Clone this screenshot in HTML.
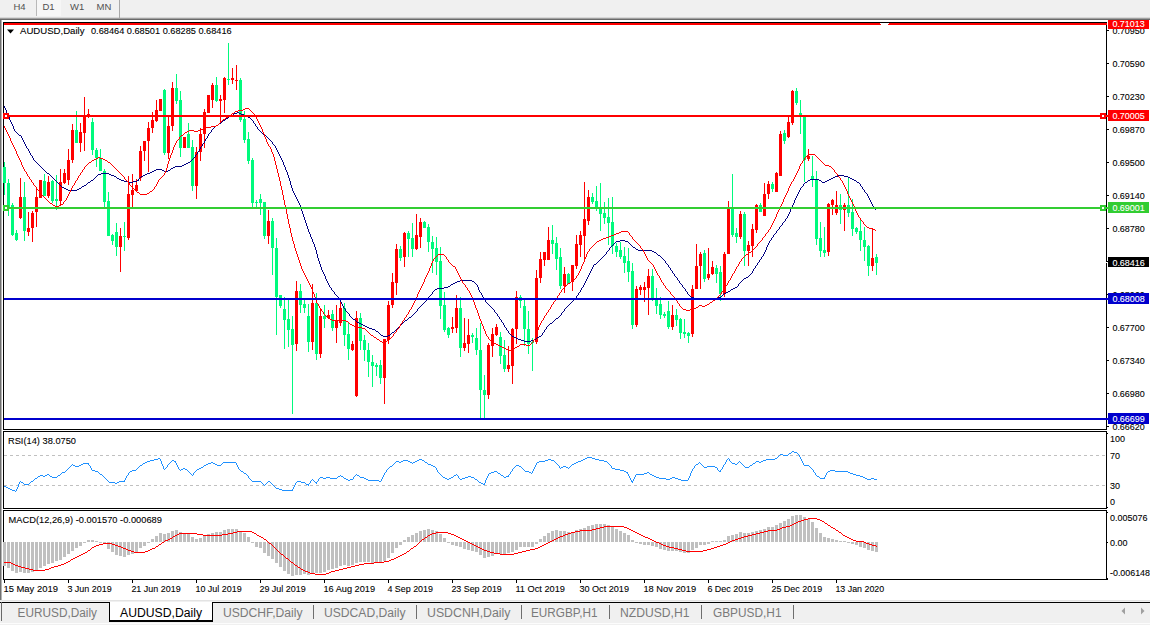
<!DOCTYPE html><html><head><meta charset="utf-8"><title>AUDUSD,Daily</title>
<style>html,body{margin:0;padding:0;background:#fff;overflow:hidden}svg{display:block}text{font-family:"Liberation Sans",sans-serif}</style></head><body>
<svg width="1150" height="625" viewBox="0 0 1150 625">
<rect x="0" y="0" width="1150" height="625" fill="#fff" />
<rect x="0" y="0" width="1150" height="18" fill="#f0f0f0" />
<rect x="0" y="17" width="1150" height="1" fill="#d8d8d8" />
<rect x="0" y="18" width="1150" height="1" fill="#a0a0a0" />
<rect x="0" y="19" width="1150" height="1" fill="#6a6a6a" />
<rect x="37" y="0" width="24" height="16" fill="#f6f6f6" />
<rect x="36" y="0" width="1" height="16" fill="#b8b8b8" />
<rect x="119" y="0" width="1" height="18" fill="#a8a8a8" />
<text x="13.5" y="9.5" font-size="9.5" fill="#505050" text-anchor="start" >H4</text>
<text x="42.5" y="9.5" font-size="9.5" fill="#505050" text-anchor="start" >D1</text>
<text x="70" y="9.5" font-size="9.5" fill="#505050" text-anchor="start" >W1</text>
<text x="96.5" y="9.5" font-size="9.5" fill="#505050" text-anchor="start" >MN</text>
<rect x="0" y="20" width="1" height="582" fill="#707070" />
<rect x="1" y="20" width="1" height="582" fill="#b4b4b4" />
<rect x="3" y="22" width="1103" height="1" fill="#000" />
<rect x="3" y="22" width="1" height="408" fill="#000" />
<rect x="3" y="429" width="1104" height="1" fill="#000" />
<rect x="1106" y="22" width="1" height="408" fill="#000" />
<rect x="3" y="431" width="1104" height="1" fill="#000" />
<rect x="3" y="431" width="1" height="78" fill="#000" />
<rect x="3" y="508" width="1104" height="1" fill="#000" />
<rect x="1106" y="431" width="1" height="78" fill="#000" />
<rect x="3" y="510" width="1104" height="1" fill="#000" />
<rect x="3" y="510" width="1" height="70" fill="#000" />
<rect x="3" y="579" width="1105" height="1" fill="#000" />
<rect x="1106" y="510" width="1" height="70" fill="#000" />
<g shape-rendering="crispEdges">
<rect x="1107" y="30" width="2" height="1" fill="#000"/>
<rect x="1107" y="63" width="2" height="1" fill="#000"/>
<rect x="1107" y="96" width="2" height="1" fill="#000"/>
<rect x="1107" y="129" width="2" height="1" fill="#000"/>
<rect x="1107" y="162" width="2" height="1" fill="#000"/>
<rect x="1107" y="195" width="2" height="1" fill="#000"/>
<rect x="1107" y="228" width="2" height="1" fill="#000"/>
<rect x="1107" y="261" width="2" height="1" fill="#000"/>
<rect x="1107" y="294" width="2" height="1" fill="#000"/>
<rect x="1107" y="327" width="2" height="1" fill="#000"/>
<rect x="1107" y="360" width="2" height="1" fill="#000"/>
<rect x="1107" y="393" width="2" height="1" fill="#000"/>
<rect x="1107" y="426" width="2" height="1" fill="#000"/>
</g>
<text x="1112.4" y="33.6" font-size="9.9" fill="#000" stroke="#000" stroke-width="0.1" textLength="32.4" lengthAdjust="spacingAndGlyphs">0.70950</text>
<text x="1112.4" y="66.6" font-size="9.9" fill="#000" stroke="#000" stroke-width="0.1" textLength="32.4" lengthAdjust="spacingAndGlyphs">0.70590</text>
<text x="1112.4" y="99.6" font-size="9.9" fill="#000" stroke="#000" stroke-width="0.1" textLength="32.4" lengthAdjust="spacingAndGlyphs">0.70230</text>
<text x="1112.4" y="132.6" font-size="9.9" fill="#000" stroke="#000" stroke-width="0.1" textLength="32.4" lengthAdjust="spacingAndGlyphs">0.69870</text>
<text x="1112.4" y="165.6" font-size="9.9" fill="#000" stroke="#000" stroke-width="0.1" textLength="32.4" lengthAdjust="spacingAndGlyphs">0.69500</text>
<text x="1112.4" y="198.6" font-size="9.9" fill="#000" stroke="#000" stroke-width="0.1" textLength="32.4" lengthAdjust="spacingAndGlyphs">0.69140</text>
<text x="1112.4" y="231.6" font-size="9.9" fill="#000" stroke="#000" stroke-width="0.1" textLength="32.4" lengthAdjust="spacingAndGlyphs">0.68780</text>
<text x="1112.4" y="264.6" font-size="9.9" fill="#000" stroke="#000" stroke-width="0.1" textLength="32.4" lengthAdjust="spacingAndGlyphs">0.68420</text>
<text x="1112.4" y="297.6" font-size="9.9" fill="#000" stroke="#000" stroke-width="0.1" textLength="32.4" lengthAdjust="spacingAndGlyphs">0.68060</text>
<text x="1112.4" y="330.6" font-size="9.9" fill="#000" stroke="#000" stroke-width="0.1" textLength="32.4" lengthAdjust="spacingAndGlyphs">0.67700</text>
<text x="1112.4" y="363.6" font-size="9.9" fill="#000" stroke="#000" stroke-width="0.1" textLength="32.4" lengthAdjust="spacingAndGlyphs">0.67340</text>
<text x="1112.4" y="396.6" font-size="9.9" fill="#000" stroke="#000" stroke-width="0.1" textLength="32.4" lengthAdjust="spacingAndGlyphs">0.66980</text>
<text x="1112.4" y="429.6" font-size="9.9" fill="#000" stroke="#000" stroke-width="0.1" textLength="32.4" lengthAdjust="spacingAndGlyphs">0.66620</text>
<g shape-rendering="crispEdges">
<rect x="4" y="23" width="1103" height="2" fill="#ff0000"/>
<rect x="880" y="23" width="9" height="1" fill="#fff"/>
<rect x="881" y="24" width="7" height="1" fill="#fff"/>
<g id="candles">
<rect x="4" y="162" width="1" height="33" fill="#00fa7d"/>
<rect x="3" y="167" width="3" height="16" fill="#00fa7d"/>
<rect x="8" y="179" width="1" height="37" fill="#00fa7d"/>
<rect x="7" y="183" width="3" height="24" fill="#00fa7d"/>
<rect x="12" y="203" width="1" height="33" fill="#00fa7d"/>
<rect x="11" y="205" width="3" height="30" fill="#00fa7d"/>
<rect x="16" y="230" width="1" height="11" fill="#00fa7d"/>
<rect x="15" y="233" width="3" height="7" fill="#00fa7d"/>
<rect x="20" y="178" width="1" height="41" fill="#ff0000"/>
<rect x="19" y="197" width="3" height="21" fill="#ff0000"/>
<rect x="24" y="182" width="1" height="59" fill="#00fa7d"/>
<rect x="23" y="197" width="3" height="34" fill="#00fa7d"/>
<rect x="28" y="212" width="1" height="24" fill="#ff0000"/>
<rect x="27" y="228" width="3" height="4" fill="#ff0000"/>
<rect x="32" y="211" width="1" height="31" fill="#ff0000"/>
<rect x="31" y="213" width="3" height="15" fill="#ff0000"/>
<rect x="36" y="188" width="1" height="39" fill="#ff0000"/>
<rect x="35" y="197" width="3" height="15" fill="#ff0000"/>
<rect x="40" y="180" width="1" height="18" fill="#ff0000"/>
<rect x="39" y="180" width="3" height="18" fill="#ff0000"/>
<rect x="44" y="174" width="1" height="22" fill="#00fa7d"/>
<rect x="43" y="181" width="3" height="15" fill="#00fa7d"/>
<rect x="48" y="176" width="1" height="22" fill="#ff0000"/>
<rect x="47" y="182" width="3" height="14" fill="#ff0000"/>
<rect x="52" y="180" width="1" height="23" fill="#00fa7d"/>
<rect x="51" y="181" width="3" height="20" fill="#00fa7d"/>
<rect x="56" y="175" width="1" height="35" fill="#00fa7d"/>
<rect x="55" y="199" width="3" height="2" fill="#00fa7d"/>
<rect x="60" y="169" width="1" height="37" fill="#ff0000"/>
<rect x="59" y="182" width="3" height="19" fill="#ff0000"/>
<rect x="64" y="169" width="1" height="15" fill="#ff0000"/>
<rect x="63" y="173" width="3" height="10" fill="#ff0000"/>
<rect x="68" y="149" width="1" height="36" fill="#ff0000"/>
<rect x="67" y="160" width="3" height="20" fill="#ff0000"/>
<rect x="72" y="124" width="1" height="39" fill="#ff0000"/>
<rect x="71" y="130" width="3" height="30" fill="#ff0000"/>
<rect x="76" y="111" width="1" height="32" fill="#00fa7d"/>
<rect x="75" y="130" width="3" height="13" fill="#00fa7d"/>
<rect x="80" y="123" width="1" height="29" fill="#ff0000"/>
<rect x="79" y="132" width="3" height="11" fill="#ff0000"/>
<rect x="84" y="97" width="1" height="54" fill="#ff0000"/>
<rect x="83" y="116" width="3" height="17" fill="#ff0000"/>
<rect x="88" y="109" width="1" height="9" fill="#ff0000"/>
<rect x="87" y="114" width="3" height="3" fill="#ff0000"/>
<rect x="92" y="118" width="1" height="37" fill="#00fa7d"/>
<rect x="91" y="122" width="3" height="28" fill="#00fa7d"/>
<rect x="96" y="148" width="1" height="19" fill="#00fa7d"/>
<rect x="95" y="150" width="3" height="8" fill="#00fa7d"/>
<rect x="100" y="149" width="1" height="22" fill="#00fa7d"/>
<rect x="99" y="158" width="3" height="13" fill="#00fa7d"/>
<rect x="104" y="169" width="1" height="38" fill="#00fa7d"/>
<rect x="103" y="171" width="3" height="31" fill="#00fa7d"/>
<rect x="108" y="192" width="1" height="44" fill="#00fa7d"/>
<rect x="107" y="201" width="3" height="35" fill="#00fa7d"/>
<rect x="112" y="234" width="1" height="11" fill="#00fa7d"/>
<rect x="111" y="235" width="3" height="6" fill="#00fa7d"/>
<rect x="116" y="223" width="1" height="33" fill="#00fa7d"/>
<rect x="115" y="232" width="3" height="15" fill="#00fa7d"/>
<rect x="120" y="228" width="1" height="44" fill="#ff0000"/>
<rect x="119" y="236" width="3" height="11" fill="#ff0000"/>
<rect x="124" y="222" width="1" height="29" fill="#00fa7d"/>
<rect x="123" y="236" width="3" height="1" fill="#00fa7d"/>
<rect x="128" y="176" width="1" height="64" fill="#ff0000"/>
<rect x="127" y="194" width="3" height="44" fill="#ff0000"/>
<rect x="132" y="174" width="1" height="33" fill="#ff0000"/>
<rect x="131" y="190" width="3" height="5" fill="#ff0000"/>
<rect x="136" y="179" width="1" height="13" fill="#ff0000"/>
<rect x="135" y="185" width="3" height="6" fill="#ff0000"/>
<rect x="140" y="146" width="1" height="35" fill="#ff0000"/>
<rect x="139" y="151" width="3" height="27" fill="#ff0000"/>
<rect x="144" y="141" width="1" height="20" fill="#ff0000"/>
<rect x="143" y="141" width="3" height="10" fill="#ff0000"/>
<rect x="148" y="122" width="1" height="50" fill="#ff0000"/>
<rect x="147" y="128" width="3" height="13" fill="#ff0000"/>
<rect x="152" y="112" width="1" height="21" fill="#ff0000"/>
<rect x="151" y="120" width="3" height="8" fill="#ff0000"/>
<rect x="156" y="100" width="1" height="22" fill="#ff0000"/>
<rect x="155" y="110" width="3" height="11" fill="#ff0000"/>
<rect x="160" y="99" width="1" height="12" fill="#ff0000"/>
<rect x="159" y="99" width="3" height="12" fill="#ff0000"/>
<rect x="164" y="89" width="1" height="66" fill="#00fa7d"/>
<rect x="163" y="90" width="3" height="63" fill="#00fa7d"/>
<rect x="168" y="117" width="1" height="42" fill="#ff0000"/>
<rect x="167" y="126" width="3" height="27" fill="#ff0000"/>
<rect x="172" y="82" width="1" height="49" fill="#ff0000"/>
<rect x="171" y="88" width="3" height="38" fill="#ff0000"/>
<rect x="176" y="74" width="1" height="30" fill="#00fa7d"/>
<rect x="175" y="88" width="3" height="13" fill="#00fa7d"/>
<rect x="180" y="91" width="1" height="66" fill="#00fa7d"/>
<rect x="179" y="100" width="3" height="48" fill="#00fa7d"/>
<rect x="184" y="137" width="1" height="11" fill="#ff0000"/>
<rect x="183" y="137" width="3" height="11" fill="#ff0000"/>
<rect x="188" y="123" width="1" height="25" fill="#00fa7d"/>
<rect x="187" y="134" width="3" height="14" fill="#00fa7d"/>
<rect x="192" y="140" width="1" height="51" fill="#00fa7d"/>
<rect x="191" y="147" width="3" height="39" fill="#00fa7d"/>
<rect x="196" y="147" width="1" height="52" fill="#ff0000"/>
<rect x="195" y="152" width="3" height="34" fill="#ff0000"/>
<rect x="200" y="128" width="1" height="33" fill="#ff0000"/>
<rect x="199" y="134" width="3" height="18" fill="#ff0000"/>
<rect x="204" y="109" width="1" height="39" fill="#ff0000"/>
<rect x="203" y="112" width="3" height="22" fill="#ff0000"/>
<rect x="208" y="95" width="1" height="18" fill="#ff0000"/>
<rect x="207" y="95" width="3" height="18" fill="#ff0000"/>
<rect x="212" y="83" width="1" height="25" fill="#ff0000"/>
<rect x="211" y="85" width="3" height="15" fill="#ff0000"/>
<rect x="216" y="77" width="1" height="25" fill="#00fa7d"/>
<rect x="215" y="85" width="3" height="16" fill="#00fa7d"/>
<rect x="220" y="95" width="1" height="28" fill="#ff0000"/>
<rect x="219" y="99" width="3" height="2" fill="#ff0000"/>
<rect x="224" y="77" width="1" height="36" fill="#ff0000"/>
<rect x="223" y="78" width="3" height="22" fill="#ff0000"/>
<rect x="228" y="43" width="1" height="42" fill="#00fa7d"/>
<rect x="227" y="79" width="3" height="1" fill="#00fa7d"/>
<rect x="232" y="68" width="1" height="16" fill="#ff0000"/>
<rect x="231" y="78" width="3" height="2" fill="#ff0000"/>
<rect x="236" y="65" width="1" height="25" fill="#ff0000"/>
<rect x="235" y="80" width="3" height="1" fill="#ff0000"/>
<rect x="240" y="78" width="1" height="44" fill="#00fa7d"/>
<rect x="239" y="80" width="3" height="40" fill="#00fa7d"/>
<rect x="244" y="111" width="1" height="32" fill="#00fa7d"/>
<rect x="243" y="119" width="3" height="21" fill="#00fa7d"/>
<rect x="248" y="132" width="1" height="32" fill="#00fa7d"/>
<rect x="247" y="139" width="3" height="22" fill="#00fa7d"/>
<rect x="252" y="158" width="1" height="49" fill="#00fa7d"/>
<rect x="251" y="160" width="3" height="43" fill="#00fa7d"/>
<rect x="256" y="200" width="1" height="7" fill="#00fa7d"/>
<rect x="255" y="202" width="3" height="1" fill="#00fa7d"/>
<rect x="260" y="194" width="1" height="21" fill="#00fa7d"/>
<rect x="259" y="199" width="3" height="4" fill="#00fa7d"/>
<rect x="264" y="202" width="1" height="37" fill="#00fa7d"/>
<rect x="263" y="202" width="3" height="34" fill="#00fa7d"/>
<rect x="268" y="210" width="1" height="34" fill="#ff0000"/>
<rect x="267" y="221" width="3" height="15" fill="#ff0000"/>
<rect x="272" y="218" width="1" height="57" fill="#00fa7d"/>
<rect x="271" y="221" width="3" height="27" fill="#00fa7d"/>
<rect x="276" y="238" width="1" height="97" fill="#00fa7d"/>
<rect x="275" y="248" width="3" height="49" fill="#00fa7d"/>
<rect x="280" y="295" width="1" height="13" fill="#00fa7d"/>
<rect x="279" y="295" width="3" height="11" fill="#00fa7d"/>
<rect x="284" y="297" width="1" height="52" fill="#00fa7d"/>
<rect x="283" y="309" width="3" height="11" fill="#00fa7d"/>
<rect x="288" y="300" width="1" height="47" fill="#00fa7d"/>
<rect x="287" y="319" width="3" height="11" fill="#00fa7d"/>
<rect x="292" y="316" width="1" height="98" fill="#00fa7d"/>
<rect x="291" y="329" width="3" height="16" fill="#00fa7d"/>
<rect x="296" y="281" width="1" height="70" fill="#ff0000"/>
<rect x="295" y="291" width="3" height="53" fill="#ff0000"/>
<rect x="300" y="284" width="1" height="29" fill="#00fa7d"/>
<rect x="299" y="291" width="3" height="14" fill="#00fa7d"/>
<rect x="304" y="300" width="1" height="13" fill="#00fa7d"/>
<rect x="303" y="304" width="3" height="4" fill="#00fa7d"/>
<rect x="308" y="304" width="1" height="48" fill="#00fa7d"/>
<rect x="307" y="316" width="3" height="26" fill="#00fa7d"/>
<rect x="312" y="284" width="1" height="66" fill="#ff0000"/>
<rect x="311" y="303" width="3" height="39" fill="#ff0000"/>
<rect x="316" y="293" width="1" height="67" fill="#00fa7d"/>
<rect x="315" y="303" width="3" height="51" fill="#00fa7d"/>
<rect x="320" y="309" width="1" height="49" fill="#ff0000"/>
<rect x="319" y="316" width="3" height="38" fill="#ff0000"/>
<rect x="324" y="305" width="1" height="23" fill="#00fa7d"/>
<rect x="323" y="316" width="3" height="3" fill="#00fa7d"/>
<rect x="328" y="310" width="1" height="9" fill="#ff0000"/>
<rect x="327" y="315" width="3" height="3" fill="#ff0000"/>
<rect x="332" y="310" width="1" height="21" fill="#00fa7d"/>
<rect x="331" y="314" width="3" height="14" fill="#00fa7d"/>
<rect x="336" y="305" width="1" height="38" fill="#ff0000"/>
<rect x="335" y="321" width="3" height="7" fill="#ff0000"/>
<rect x="340" y="301" width="1" height="25" fill="#ff0000"/>
<rect x="339" y="308" width="3" height="15" fill="#ff0000"/>
<rect x="344" y="303" width="1" height="43" fill="#00fa7d"/>
<rect x="343" y="308" width="3" height="27" fill="#00fa7d"/>
<rect x="348" y="323" width="1" height="37" fill="#00fa7d"/>
<rect x="347" y="334" width="3" height="15" fill="#00fa7d"/>
<rect x="352" y="341" width="1" height="10" fill="#ff0000"/>
<rect x="351" y="344" width="3" height="6" fill="#ff0000"/>
<rect x="356" y="311" width="1" height="86" fill="#ff0000"/>
<rect x="355" y="318" width="3" height="78" fill="#ff0000"/>
<rect x="360" y="313" width="1" height="37" fill="#00fa7d"/>
<rect x="359" y="318" width="3" height="23" fill="#00fa7d"/>
<rect x="364" y="335" width="1" height="26" fill="#00fa7d"/>
<rect x="363" y="340" width="3" height="10" fill="#00fa7d"/>
<rect x="368" y="343" width="1" height="34" fill="#00fa7d"/>
<rect x="367" y="350" width="3" height="12" fill="#00fa7d"/>
<rect x="372" y="355" width="1" height="32" fill="#00fa7d"/>
<rect x="371" y="362" width="3" height="4" fill="#00fa7d"/>
<rect x="376" y="363" width="1" height="13" fill="#00fa7d"/>
<rect x="375" y="365" width="3" height="2" fill="#00fa7d"/>
<rect x="380" y="360" width="1" height="24" fill="#00fa7d"/>
<rect x="379" y="365" width="3" height="13" fill="#00fa7d"/>
<rect x="384" y="339" width="1" height="65" fill="#ff0000"/>
<rect x="383" y="339" width="3" height="39" fill="#ff0000"/>
<rect x="388" y="301" width="1" height="43" fill="#ff0000"/>
<rect x="387" y="305" width="3" height="35" fill="#ff0000"/>
<rect x="392" y="273" width="1" height="35" fill="#ff0000"/>
<rect x="391" y="282" width="3" height="23" fill="#ff0000"/>
<rect x="396" y="244" width="1" height="51" fill="#ff0000"/>
<rect x="395" y="249" width="3" height="34" fill="#ff0000"/>
<rect x="400" y="246" width="1" height="15" fill="#00fa7d"/>
<rect x="399" y="249" width="3" height="9" fill="#00fa7d"/>
<rect x="404" y="232" width="1" height="35" fill="#ff0000"/>
<rect x="403" y="233" width="3" height="24" fill="#ff0000"/>
<rect x="408" y="231" width="1" height="26" fill="#00fa7d"/>
<rect x="407" y="233" width="3" height="6" fill="#00fa7d"/>
<rect x="412" y="223" width="1" height="34" fill="#00fa7d"/>
<rect x="411" y="238" width="3" height="11" fill="#00fa7d"/>
<rect x="416" y="214" width="1" height="36" fill="#ff0000"/>
<rect x="415" y="235" width="3" height="14" fill="#ff0000"/>
<rect x="420" y="218" width="1" height="30" fill="#ff0000"/>
<rect x="419" y="222" width="3" height="15" fill="#ff0000"/>
<rect x="424" y="221" width="1" height="7" fill="#00fa7d"/>
<rect x="423" y="222" width="3" height="6" fill="#00fa7d"/>
<rect x="428" y="224" width="1" height="28" fill="#00fa7d"/>
<rect x="427" y="227" width="3" height="15" fill="#00fa7d"/>
<rect x="432" y="236" width="1" height="37" fill="#00fa7d"/>
<rect x="431" y="242" width="3" height="7" fill="#00fa7d"/>
<rect x="436" y="237" width="1" height="38" fill="#00fa7d"/>
<rect x="435" y="248" width="3" height="14" fill="#00fa7d"/>
<rect x="440" y="247" width="1" height="72" fill="#00fa7d"/>
<rect x="439" y="261" width="3" height="45" fill="#00fa7d"/>
<rect x="444" y="292" width="1" height="40" fill="#00fa7d"/>
<rect x="443" y="305" width="3" height="25" fill="#00fa7d"/>
<rect x="448" y="327" width="1" height="11" fill="#00fa7d"/>
<rect x="447" y="328" width="3" height="7" fill="#00fa7d"/>
<rect x="452" y="317" width="1" height="16" fill="#ff0000"/>
<rect x="451" y="327" width="3" height="2" fill="#ff0000"/>
<rect x="456" y="295" width="1" height="38" fill="#ff0000"/>
<rect x="455" y="308" width="3" height="20" fill="#ff0000"/>
<rect x="460" y="297" width="1" height="60" fill="#00fa7d"/>
<rect x="459" y="308" width="3" height="40" fill="#00fa7d"/>
<rect x="464" y="318" width="1" height="33" fill="#ff0000"/>
<rect x="463" y="343" width="3" height="5" fill="#ff0000"/>
<rect x="468" y="319" width="1" height="34" fill="#ff0000"/>
<rect x="467" y="335" width="3" height="9" fill="#ff0000"/>
<rect x="472" y="333" width="1" height="10" fill="#00fa7d"/>
<rect x="471" y="335" width="3" height="2" fill="#00fa7d"/>
<rect x="476" y="328" width="1" height="27" fill="#00fa7d"/>
<rect x="475" y="338" width="3" height="12" fill="#00fa7d"/>
<rect x="480" y="323" width="1" height="95" fill="#00fa7d"/>
<rect x="479" y="350" width="3" height="40" fill="#00fa7d"/>
<rect x="484" y="375" width="1" height="43" fill="#00fa7d"/>
<rect x="483" y="390" width="3" height="5" fill="#00fa7d"/>
<rect x="488" y="343" width="1" height="56" fill="#ff0000"/>
<rect x="487" y="345" width="3" height="50" fill="#ff0000"/>
<rect x="492" y="328" width="1" height="29" fill="#ff0000"/>
<rect x="491" y="334" width="3" height="12" fill="#ff0000"/>
<rect x="496" y="324" width="1" height="12" fill="#ff0000"/>
<rect x="495" y="327" width="3" height="8" fill="#ff0000"/>
<rect x="500" y="332" width="1" height="32" fill="#00fa7d"/>
<rect x="499" y="337" width="3" height="19" fill="#00fa7d"/>
<rect x="504" y="340" width="1" height="32" fill="#00fa7d"/>
<rect x="503" y="355" width="3" height="14" fill="#00fa7d"/>
<rect x="508" y="346" width="1" height="26" fill="#ff0000"/>
<rect x="507" y="365" width="3" height="4" fill="#ff0000"/>
<rect x="512" y="328" width="1" height="56" fill="#ff0000"/>
<rect x="511" y="329" width="3" height="37" fill="#ff0000"/>
<rect x="516" y="291" width="1" height="53" fill="#ff0000"/>
<rect x="515" y="297" width="3" height="32" fill="#ff0000"/>
<rect x="520" y="295" width="1" height="13" fill="#00fa7d"/>
<rect x="519" y="297" width="3" height="4" fill="#00fa7d"/>
<rect x="524" y="300" width="1" height="46" fill="#00fa7d"/>
<rect x="523" y="306" width="3" height="23" fill="#00fa7d"/>
<rect x="528" y="311" width="1" height="43" fill="#00fa7d"/>
<rect x="527" y="329" width="3" height="15" fill="#00fa7d"/>
<rect x="532" y="338" width="1" height="33" fill="#00fa7d"/>
<rect x="531" y="342" width="3" height="1" fill="#00fa7d"/>
<rect x="536" y="270" width="1" height="74" fill="#ff0000"/>
<rect x="535" y="278" width="3" height="64" fill="#ff0000"/>
<rect x="540" y="252" width="1" height="31" fill="#ff0000"/>
<rect x="539" y="259" width="3" height="19" fill="#ff0000"/>
<rect x="544" y="252" width="1" height="14" fill="#ff0000"/>
<rect x="543" y="252" width="3" height="8" fill="#ff0000"/>
<rect x="548" y="227" width="1" height="33" fill="#ff0000"/>
<rect x="547" y="240" width="3" height="20" fill="#ff0000"/>
<rect x="552" y="225" width="1" height="29" fill="#00fa7d"/>
<rect x="551" y="240" width="3" height="4" fill="#00fa7d"/>
<rect x="556" y="237" width="1" height="33" fill="#00fa7d"/>
<rect x="555" y="243" width="3" height="16" fill="#00fa7d"/>
<rect x="560" y="248" width="1" height="41" fill="#00fa7d"/>
<rect x="559" y="257" width="3" height="29" fill="#00fa7d"/>
<rect x="564" y="267" width="1" height="26" fill="#ff0000"/>
<rect x="563" y="274" width="3" height="12" fill="#ff0000"/>
<rect x="568" y="273" width="1" height="11" fill="#00fa7d"/>
<rect x="567" y="274" width="3" height="10" fill="#00fa7d"/>
<rect x="572" y="265" width="1" height="26" fill="#ff0000"/>
<rect x="571" y="265" width="3" height="17" fill="#ff0000"/>
<rect x="576" y="235" width="1" height="34" fill="#ff0000"/>
<rect x="575" y="244" width="3" height="22" fill="#ff0000"/>
<rect x="580" y="231" width="1" height="26" fill="#ff0000"/>
<rect x="579" y="235" width="3" height="10" fill="#ff0000"/>
<rect x="584" y="182" width="1" height="79" fill="#ff0000"/>
<rect x="583" y="219" width="3" height="17" fill="#ff0000"/>
<rect x="588" y="190" width="1" height="35" fill="#ff0000"/>
<rect x="587" y="197" width="3" height="24" fill="#ff0000"/>
<rect x="592" y="193" width="1" height="11" fill="#00fa7d"/>
<rect x="591" y="197" width="3" height="5" fill="#00fa7d"/>
<rect x="596" y="186" width="1" height="25" fill="#00fa7d"/>
<rect x="595" y="201" width="3" height="6" fill="#00fa7d"/>
<rect x="600" y="183" width="1" height="48" fill="#00fa7d"/>
<rect x="599" y="209" width="3" height="5" fill="#00fa7d"/>
<rect x="604" y="202" width="1" height="22" fill="#00fa7d"/>
<rect x="603" y="213" width="3" height="5" fill="#00fa7d"/>
<rect x="608" y="198" width="1" height="47" fill="#00fa7d"/>
<rect x="607" y="217" width="3" height="6" fill="#00fa7d"/>
<rect x="612" y="197" width="1" height="57" fill="#00fa7d"/>
<rect x="611" y="222" width="3" height="24" fill="#00fa7d"/>
<rect x="616" y="243" width="1" height="14" fill="#00fa7d"/>
<rect x="615" y="246" width="3" height="6" fill="#00fa7d"/>
<rect x="620" y="242" width="1" height="17" fill="#00fa7d"/>
<rect x="619" y="250" width="3" height="7" fill="#00fa7d"/>
<rect x="624" y="247" width="1" height="26" fill="#00fa7d"/>
<rect x="623" y="256" width="3" height="7" fill="#00fa7d"/>
<rect x="628" y="248" width="1" height="34" fill="#00fa7d"/>
<rect x="627" y="261" width="3" height="11" fill="#00fa7d"/>
<rect x="632" y="263" width="1" height="66" fill="#00fa7d"/>
<rect x="631" y="271" width="3" height="54" fill="#00fa7d"/>
<rect x="636" y="286" width="1" height="41" fill="#ff0000"/>
<rect x="635" y="289" width="3" height="36" fill="#ff0000"/>
<rect x="640" y="285" width="1" height="10" fill="#ff0000"/>
<rect x="639" y="287" width="3" height="3" fill="#ff0000"/>
<rect x="644" y="282" width="1" height="20" fill="#ff0000"/>
<rect x="643" y="287" width="3" height="3" fill="#ff0000"/>
<rect x="648" y="269" width="1" height="46" fill="#ff0000"/>
<rect x="647" y="276" width="3" height="12" fill="#ff0000"/>
<rect x="652" y="269" width="1" height="32" fill="#00fa7d"/>
<rect x="651" y="276" width="3" height="22" fill="#00fa7d"/>
<rect x="656" y="288" width="1" height="26" fill="#00fa7d"/>
<rect x="655" y="298" width="3" height="8" fill="#00fa7d"/>
<rect x="660" y="297" width="1" height="22" fill="#00fa7d"/>
<rect x="659" y="304" width="3" height="11" fill="#00fa7d"/>
<rect x="664" y="312" width="1" height="6" fill="#00fa7d"/>
<rect x="663" y="314" width="3" height="2" fill="#00fa7d"/>
<rect x="668" y="301" width="1" height="28" fill="#00fa7d"/>
<rect x="667" y="311" width="3" height="16" fill="#00fa7d"/>
<rect x="672" y="305" width="1" height="25" fill="#ff0000"/>
<rect x="671" y="315" width="3" height="12" fill="#ff0000"/>
<rect x="676" y="309" width="1" height="17" fill="#00fa7d"/>
<rect x="675" y="315" width="3" height="5" fill="#00fa7d"/>
<rect x="680" y="318" width="1" height="21" fill="#00fa7d"/>
<rect x="679" y="319" width="3" height="14" fill="#00fa7d"/>
<rect x="684" y="319" width="1" height="19" fill="#00fa7d"/>
<rect x="683" y="332" width="3" height="2" fill="#00fa7d"/>
<rect x="688" y="332" width="1" height="11" fill="#00fa7d"/>
<rect x="687" y="333" width="3" height="3" fill="#00fa7d"/>
<rect x="692" y="285" width="1" height="52" fill="#ff0000"/>
<rect x="691" y="289" width="3" height="45" fill="#ff0000"/>
<rect x="696" y="244" width="1" height="45" fill="#ff0000"/>
<rect x="695" y="266" width="3" height="23" fill="#ff0000"/>
<rect x="700" y="252" width="1" height="37" fill="#ff0000"/>
<rect x="699" y="254" width="3" height="12" fill="#ff0000"/>
<rect x="704" y="250" width="1" height="32" fill="#00fa7d"/>
<rect x="703" y="253" width="3" height="26" fill="#00fa7d"/>
<rect x="708" y="248" width="1" height="32" fill="#ff0000"/>
<rect x="707" y="274" width="3" height="4" fill="#ff0000"/>
<rect x="712" y="261" width="1" height="14" fill="#ff0000"/>
<rect x="711" y="267" width="3" height="7" fill="#ff0000"/>
<rect x="716" y="265" width="1" height="18" fill="#00fa7d"/>
<rect x="715" y="268" width="3" height="6" fill="#00fa7d"/>
<rect x="720" y="266" width="1" height="35" fill="#00fa7d"/>
<rect x="719" y="272" width="3" height="22" fill="#00fa7d"/>
<rect x="724" y="252" width="1" height="45" fill="#ff0000"/>
<rect x="723" y="254" width="3" height="40" fill="#ff0000"/>
<rect x="728" y="201" width="1" height="53" fill="#ff0000"/>
<rect x="727" y="209" width="3" height="45" fill="#ff0000"/>
<rect x="732" y="174" width="1" height="63" fill="#00fa7d"/>
<rect x="731" y="209" width="3" height="26" fill="#00fa7d"/>
<rect x="736" y="228" width="1" height="15" fill="#00fa7d"/>
<rect x="735" y="233" width="3" height="4" fill="#00fa7d"/>
<rect x="740" y="211" width="1" height="28" fill="#ff0000"/>
<rect x="739" y="214" width="3" height="23" fill="#ff0000"/>
<rect x="744" y="212" width="1" height="54" fill="#00fa7d"/>
<rect x="743" y="214" width="3" height="37" fill="#00fa7d"/>
<rect x="748" y="241" width="1" height="25" fill="#ff0000"/>
<rect x="747" y="245" width="3" height="6" fill="#ff0000"/>
<rect x="752" y="224" width="1" height="33" fill="#ff0000"/>
<rect x="751" y="229" width="3" height="17" fill="#ff0000"/>
<rect x="756" y="204" width="1" height="29" fill="#ff0000"/>
<rect x="755" y="205" width="3" height="25" fill="#ff0000"/>
<rect x="760" y="203" width="1" height="9" fill="#00fa7d"/>
<rect x="759" y="205" width="3" height="7" fill="#00fa7d"/>
<rect x="764" y="183" width="1" height="33" fill="#ff0000"/>
<rect x="763" y="194" width="3" height="22" fill="#ff0000"/>
<rect x="768" y="181" width="1" height="18" fill="#ff0000"/>
<rect x="767" y="184" width="3" height="10" fill="#ff0000"/>
<rect x="772" y="182" width="1" height="10" fill="#00fa7d"/>
<rect x="771" y="184" width="3" height="5" fill="#00fa7d"/>
<rect x="776" y="172" width="1" height="20" fill="#ff0000"/>
<rect x="775" y="173" width="3" height="19" fill="#ff0000"/>
<rect x="780" y="131" width="1" height="45" fill="#ff0000"/>
<rect x="779" y="134" width="3" height="42" fill="#ff0000"/>
<rect x="784" y="130" width="1" height="14" fill="#00fa7d"/>
<rect x="783" y="133" width="3" height="8" fill="#00fa7d"/>
<rect x="788" y="115" width="1" height="23" fill="#ff0000"/>
<rect x="787" y="122" width="3" height="15" fill="#ff0000"/>
<rect x="792" y="90" width="1" height="35" fill="#ff0000"/>
<rect x="791" y="91" width="3" height="32" fill="#ff0000"/>
<rect x="796" y="88" width="1" height="17" fill="#00fa7d"/>
<rect x="795" y="91" width="3" height="12" fill="#00fa7d"/>
<rect x="800" y="100" width="1" height="34" fill="#00fa7d"/>
<rect x="799" y="113" width="3" height="2" fill="#00fa7d"/>
<rect x="804" y="115" width="1" height="67" fill="#00fa7d"/>
<rect x="803" y="115" width="3" height="45" fill="#00fa7d"/>
<rect x="808" y="149" width="1" height="12" fill="#ff0000"/>
<rect x="807" y="156" width="3" height="3" fill="#ff0000"/>
<rect x="812" y="156" width="1" height="31" fill="#00fa7d"/>
<rect x="811" y="176" width="3" height="3" fill="#00fa7d"/>
<rect x="816" y="171" width="1" height="74" fill="#00fa7d"/>
<rect x="815" y="179" width="3" height="60" fill="#00fa7d"/>
<rect x="820" y="222" width="1" height="35" fill="#00fa7d"/>
<rect x="819" y="238" width="3" height="13" fill="#00fa7d"/>
<rect x="824" y="227" width="1" height="30" fill="#00fa7d"/>
<rect x="823" y="250" width="3" height="3" fill="#00fa7d"/>
<rect x="828" y="203" width="1" height="53" fill="#ff0000"/>
<rect x="827" y="204" width="3" height="48" fill="#ff0000"/>
<rect x="832" y="199" width="1" height="16" fill="#ff0000"/>
<rect x="831" y="200" width="3" height="5" fill="#ff0000"/>
<rect x="836" y="191" width="1" height="24" fill="#ff0000"/>
<rect x="835" y="205" width="3" height="8" fill="#ff0000"/>
<rect x="840" y="194" width="1" height="30" fill="#00fa7d"/>
<rect x="839" y="205" width="3" height="5" fill="#00fa7d"/>
<rect x="844" y="203" width="1" height="28" fill="#ff0000"/>
<rect x="843" y="205" width="3" height="5" fill="#ff0000"/>
<rect x="848" y="178" width="1" height="39" fill="#00fa7d"/>
<rect x="847" y="205" width="3" height="8" fill="#00fa7d"/>
<rect x="852" y="199" width="1" height="37" fill="#00fa7d"/>
<rect x="851" y="212" width="3" height="17" fill="#00fa7d"/>
<rect x="856" y="227" width="1" height="7" fill="#00fa7d"/>
<rect x="855" y="228" width="3" height="4" fill="#00fa7d"/>
<rect x="860" y="220" width="1" height="31" fill="#00fa7d"/>
<rect x="859" y="231" width="3" height="9" fill="#00fa7d"/>
<rect x="864" y="227" width="1" height="34" fill="#00fa7d"/>
<rect x="863" y="240" width="3" height="7" fill="#00fa7d"/>
<rect x="868" y="245" width="1" height="31" fill="#00fa7d"/>
<rect x="867" y="246" width="3" height="20" fill="#00fa7d"/>
<rect x="872" y="229" width="1" height="42" fill="#ff0000"/>
<rect x="871" y="258" width="3" height="8" fill="#ff0000"/>
<rect x="876" y="254" width="1" height="21" fill="#00fa7d"/>
<rect x="875" y="257" width="3" height="6" fill="#00fa7d"/>
</g>
<path d="M4.5,106v2M5.5,108v2M6.5,110v3M7.5,113v2M8.5,115v2M9.5,117v3M10.5,120v2M11.5,122v2M12.5,124v2M13.5,126v3M14.5,129v2M15.5,131v1M16.5,132v1M17.5,133v1M18.5,134v1M19.5,135v1M20.5,135v1M21.5,136v2M22.5,138v2M23.5,140v2M24.5,142v2M25.5,144v2M26.5,146v2M27.5,148v1M28.5,149v2M29.5,151v2M30.5,153v2M31.5,155v1M32.5,156v2M33.5,158v2M34.5,160v1M35.5,161v1M36.5,162v1M37.5,163v1M38.5,164v1M39.5,165v1M40.5,166v1M41.5,167v1M42.5,168v1M43.5,169v1M44.5,170v1M45.5,171v1M46.5,172v1M47.5,173v1M48.5,173v1M49.5,174v1M50.5,175v1M51.5,176v1M52.5,177v1M53.5,178v1M54.5,179v1M55.5,180v1M56.5,181v1M57.5,182v1M58.5,183v1M59.5,184v1M60.5,185v1M61.5,186v1M62.5,187v1M63.5,187v1M64.5,188v1M65.5,188v1M66.5,189v1M67.5,189v1M68.5,190v1M69.5,190v1M70.5,190v1M71.5,190v1M72.5,190v1M73.5,190v1M74.5,190v1M75.5,190v1M76.5,190v1M77.5,189v1M78.5,189v1M79.5,188v1M80.5,188v1M81.5,187v1M82.5,186v1M83.5,186v1M84.5,185v1M85.5,185v1M86.5,184v1M87.5,183v1M88.5,182v1M89.5,182v1M90.5,181v1M91.5,180v1M92.5,180v1M93.5,179v1M94.5,178v1M95.5,177v1M96.5,176v1M97.5,175v1M98.5,174v1M99.5,174v1M100.5,174v1M101.5,173v1M102.5,173v1M103.5,173v1M104.5,173v1M105.5,173v1M106.5,173v1M107.5,173v1M108.5,173v1M109.5,174v1M110.5,174v1M111.5,175v1M112.5,175v1M113.5,175v1M114.5,176v1M115.5,176v1M116.5,177v1M117.5,178v1M118.5,178v1M119.5,179v1M120.5,179v1M121.5,180v1M122.5,180v1M123.5,180v1M124.5,181v1M125.5,181v1M126.5,181v1M127.5,181v1M128.5,182v1M129.5,182v1M130.5,182v1M131.5,182v1M132.5,182v1M133.5,181v1M134.5,181v1M135.5,181v1M136.5,181v1M137.5,180v1M138.5,179v2M139.5,178v1M140.5,177v1M141.5,176v1M142.5,176v1M143.5,175v1M144.5,175v1M145.5,174v1M146.5,174v1M147.5,173v1M148.5,173v1M149.5,173v1M150.5,172v1M151.5,172v1M152.5,171v1M153.5,171v1M154.5,170v1M155.5,170v1M156.5,169v1M157.5,169v1M158.5,169v1M159.5,169v1M160.5,169v1M161.5,169v1M162.5,170v1M163.5,170v1M164.5,171v1M165.5,171v1M166.5,171v1M167.5,171v1M168.5,170v1M169.5,170v1M170.5,169v1M171.5,168v1M172.5,168v1M173.5,167v1M174.5,167v1M175.5,166v1M176.5,166v1M177.5,166v1M178.5,166v1M179.5,166v1M180.5,166v1M181.5,166v1M182.5,165v1M183.5,165v1M184.5,164v1M185.5,164v1M186.5,163v1M187.5,163v1M188.5,162v1M189.5,162v1M190.5,161v1M191.5,160v1M192.5,159v1M193.5,158v1M194.5,157v1M195.5,155v2M196.5,154v1M197.5,152v2M198.5,151v1M199.5,149v2M200.5,147v2M201.5,146v1M202.5,144v2M203.5,143v1M204.5,141v2M205.5,139v2M206.5,138v1M207.5,136v2M208.5,134v2M209.5,133v1M210.5,132v1M211.5,130v2M212.5,129v1M213.5,128v1M214.5,127v1M215.5,126v1M216.5,125v1M217.5,125v1M218.5,124v1M219.5,123v1M220.5,123v1M221.5,122v1M222.5,121v1M223.5,120v1M224.5,120v1M225.5,119v1M226.5,118v1M227.5,118v1M228.5,117v1M229.5,116v1M230.5,116v1M231.5,115v1M232.5,115v1M233.5,114v1M234.5,113v1M235.5,113v1M236.5,113v1M237.5,112v1M238.5,112v1M239.5,113v1M240.5,113v1M241.5,114v1M242.5,114v1M243.5,114v1M244.5,115v1M245.5,115v1M246.5,115v1M247.5,116v1M248.5,117v1M249.5,117v1M250.5,118v1M251.5,119v1M252.5,120v1M253.5,121v2M254.5,123v1M255.5,124v2M256.5,126v1M257.5,127v2M258.5,129v1M259.5,130v1M260.5,131v1M261.5,132v1M262.5,133v1M263.5,134v1M264.5,135v1M265.5,135v1M266.5,136v1M267.5,137v1M268.5,138v1M269.5,139v1M270.5,140v1M271.5,141v1M272.5,142v2M273.5,144v1M274.5,145v1M275.5,146v2M276.5,148v2M277.5,150v2M278.5,152v2M279.5,154v2M280.5,156v2M281.5,158v2M282.5,160v2M283.5,162v3M284.5,165v2M285.5,167v3M286.5,170v2M287.5,172v3M288.5,175v3M289.5,178v3M290.5,181v4M291.5,185v3M292.5,188v3M293.5,191v2M294.5,193v2M295.5,195v2M296.5,197v2M297.5,199v2M298.5,201v2M299.5,203v2M300.5,205v3M301.5,208v3M302.5,211v3M303.5,214v3M304.5,217v3M305.5,220v3M306.5,223v3M307.5,226v3M308.5,229v3M309.5,232v2M310.5,234v3M311.5,237v2M312.5,239v3M313.5,242v2M314.5,244v3M315.5,247v3M316.5,250v4M317.5,254v4M318.5,258v3M319.5,261v3M320.5,264v3M321.5,267v3M322.5,270v2M323.5,272v2M324.5,274v2M325.5,276v3M326.5,279v2M327.5,281v2M328.5,283v2M329.5,285v2M330.5,287v1M331.5,288v2M332.5,290v1M333.5,291v1M334.5,292v2M335.5,294v1M336.5,295v1M337.5,296v1M338.5,297v2M339.5,299v1M340.5,300v2M341.5,302v2M342.5,304v2M343.5,306v2M344.5,308v1M345.5,309v2M346.5,311v1M347.5,312v1M348.5,313v1M349.5,314v2M350.5,316v1M351.5,317v1M352.5,318v1M353.5,319v1M354.5,319v1M355.5,320v1M356.5,321v1M357.5,322v1M358.5,322v1M359.5,323v1M360.5,323v1M361.5,324v1M362.5,324v1M363.5,325v1M364.5,325v1M365.5,326v1M366.5,326v1M367.5,327v1M368.5,327v1M369.5,328v1M370.5,328v1M371.5,328v1M372.5,329v1M373.5,329v1M374.5,329v1M375.5,330v1M376.5,331v1M377.5,331v1M378.5,332v1M379.5,333v1M380.5,334v1M381.5,335v1M382.5,335v1M383.5,336v1M384.5,336v1M385.5,336v1M386.5,336v1M387.5,336v1M388.5,335v1M389.5,335v1M390.5,334v1M391.5,333v1M392.5,332v1M393.5,332v1M394.5,331v1M395.5,330v1M396.5,329v1M397.5,328v1M398.5,327v1M399.5,326v1M400.5,325v1M401.5,324v1M402.5,323v1M403.5,322v1M404.5,321v1M405.5,320v1M406.5,320v1M407.5,319v1M408.5,318v1M409.5,317v1M410.5,317v1M411.5,316v1M412.5,315v1M413.5,314v1M414.5,313v1M415.5,312v1M416.5,311v1M417.5,309v2M418.5,308v1M419.5,307v1M420.5,306v1M421.5,305v1M422.5,304v1M423.5,303v1M424.5,302v1M425.5,301v1M426.5,299v2M427.5,298v1M428.5,297v1M429.5,296v1M430.5,295v1M431.5,294v1M432.5,292v2M433.5,291v1M434.5,290v1M435.5,289v1M436.5,289v1M437.5,288v1M438.5,288v1M439.5,288v1M440.5,288v1M441.5,288v1M442.5,288v1M443.5,288v1M444.5,287v1M445.5,287v1M446.5,287v1M447.5,287v1M448.5,286v1M449.5,286v1M450.5,285v1M451.5,284v1M452.5,284v1M453.5,283v1M454.5,283v1M455.5,282v1M456.5,282v1M457.5,281v1M458.5,281v1M459.5,281v1M460.5,280v1M461.5,280v1M462.5,280v1M463.5,280v1M464.5,280v1M465.5,280v1M466.5,280v1M467.5,280v1M468.5,280v1M469.5,280v1M470.5,280v1M471.5,280v1M472.5,281v1M473.5,281v1M474.5,282v1M475.5,283v1M476.5,284v1M477.5,285v2M478.5,287v3M479.5,290v2M480.5,292v1M481.5,293v2M482.5,295v2M483.5,297v2M484.5,299v1M485.5,300v2M486.5,302v1M487.5,303v1M488.5,304v1M489.5,305v1M490.5,306v1M491.5,307v1M492.5,308v1M493.5,309v1M494.5,310v2M495.5,312v1M496.5,313v1M497.5,314v2M498.5,316v1M499.5,317v2M500.5,319v1M501.5,320v2M502.5,322v1M503.5,323v2M504.5,325v2M505.5,327v1M506.5,328v2M507.5,330v1M508.5,331v2M509.5,333v1M510.5,334v1M511.5,335v1M512.5,336v1M513.5,336v1M514.5,337v1M515.5,337v1M516.5,338v1M517.5,338v1M518.5,339v1M519.5,339v1M520.5,339v1M521.5,340v1M522.5,340v1M523.5,340v1M524.5,341v1M525.5,341v1M526.5,341v1M527.5,341v1M528.5,341v1M529.5,341v1M530.5,341v1M531.5,340v1M532.5,340v1M533.5,340v1M534.5,339v1M535.5,339v1M536.5,338v1M537.5,337v1M538.5,337v1M539.5,336v1M540.5,336v1M541.5,335v1M542.5,333v2M543.5,332v1M544.5,330v2M545.5,329v1M546.5,327v2M547.5,326v1M548.5,325v1M549.5,324v1M550.5,323v1M551.5,323v1M552.5,322v1M553.5,321v1M554.5,320v1M555.5,319v1M556.5,318v1M557.5,318v1M558.5,317v1M559.5,316v1M560.5,315v1M561.5,313v2M562.5,312v1M563.5,311v1M564.5,309v2M565.5,308v1M566.5,307v1M567.5,306v1M568.5,305v1M569.5,304v1M570.5,303v1M571.5,302v1M572.5,301v1M573.5,300v1M574.5,299v1M575.5,298v1M576.5,296v2M577.5,295v1M578.5,293v2M579.5,292v1M580.5,290v2M581.5,288v2M582.5,287v1M583.5,285v2M584.5,283v2M585.5,281v2M586.5,279v2M587.5,277v2M588.5,275v2M589.5,273v2M590.5,271v2M591.5,269v2M592.5,267v2M593.5,265v2M594.5,264v1M595.5,264v1M596.5,263v1M597.5,262v1M598.5,261v1M599.5,260v1M600.5,259v1M601.5,258v1M602.5,257v1M603.5,256v1M604.5,255v1M605.5,254v1M606.5,252v2M607.5,251v1M608.5,250v1M609.5,248v2M610.5,247v1M611.5,246v1M612.5,245v1M613.5,244v1M614.5,243v1M615.5,242v1M616.5,241v1M617.5,241v1M618.5,241v1M619.5,241v1M620.5,240v1M621.5,240v1M622.5,240v1M623.5,240v1M624.5,240v1M625.5,241v1M626.5,241v1M627.5,241v1M628.5,242v1M629.5,243v1M630.5,244v1M631.5,245v1M632.5,246v1M633.5,247v1M634.5,247v1M635.5,248v1M636.5,249v1M637.5,249v1M638.5,250v1M639.5,250v1M640.5,250v1M641.5,250v1M642.5,250v1M643.5,250v1M644.5,250v1M645.5,250v1M646.5,250v1M647.5,250v1M648.5,250v1M649.5,250v1M650.5,250v1M651.5,250v1M652.5,251v1M653.5,251v1M654.5,252v1M655.5,252v1M656.5,253v1M657.5,254v1M658.5,255v1M659.5,255v1M660.5,256v1M661.5,257v1M662.5,258v1M663.5,259v1M664.5,260v1M665.5,261v2M666.5,263v1M667.5,264v1M668.5,265v2M669.5,267v1M670.5,268v2M671.5,270v1M672.5,271v2M673.5,273v1M674.5,274v2M675.5,276v1M676.5,277v1M677.5,278v2M678.5,280v1M679.5,281v2M680.5,283v1M681.5,284v1M682.5,285v2M683.5,287v1M684.5,288v1M685.5,289v2M686.5,291v1M687.5,292v2M688.5,294v1M689.5,295v1M690.5,296v1M691.5,297v1M692.5,297v1M693.5,297v1M694.5,298v1M695.5,298v1M696.5,298v1M697.5,298v1M698.5,298v1M699.5,298v1M700.5,298v1M701.5,298v1M702.5,298v1M703.5,298v1M704.5,298v1M705.5,298v1M706.5,298v1M707.5,298v1M708.5,298v1M709.5,298v1M710.5,298v1M711.5,298v1M712.5,298v1M713.5,298v1M714.5,298v1M715.5,298v1M716.5,298v1M717.5,297v1M718.5,297v1M719.5,297v1M720.5,297v1M721.5,296v1M722.5,295v1M723.5,294v1M724.5,293v1M725.5,293v1M726.5,292v1M727.5,292v1M728.5,291v1M729.5,291v1M730.5,290v1M731.5,289v1M732.5,289v1M733.5,288v1M734.5,288v1M735.5,287v1M736.5,287v1M737.5,286v1M738.5,284v2M739.5,283v1M740.5,282v1M741.5,281v1M742.5,280v1M743.5,279v1M744.5,278v1M745.5,278v1M746.5,277v1M747.5,277v1M748.5,276v1M749.5,275v1M750.5,274v1M751.5,273v1M752.5,271v2M753.5,269v2M754.5,268v1M755.5,266v2M756.5,265v1M757.5,263v2M758.5,262v1M759.5,260v2M760.5,259v1M761.5,257v2M762.5,256v1M763.5,254v2M764.5,252v2M765.5,250v2M766.5,247v3M767.5,245v2M768.5,243v2M769.5,241v2M770.5,240v1M771.5,238v2M772.5,237v1M773.5,235v2M774.5,234v1M775.5,233v1M776.5,231v2M777.5,230v1M778.5,229v1M779.5,227v2M780.5,226v1M781.5,225v1M782.5,223v2M783.5,222v1M784.5,221v1M785.5,219v2M786.5,218v1M787.5,216v2M788.5,214v2M789.5,212v2M790.5,209v3M791.5,207v2M792.5,205v2M793.5,203v2M794.5,200v3M795.5,198v2M796.5,196v2M797.5,194v2M798.5,192v2M799.5,190v2M800.5,188v2M801.5,187v1M802.5,186v1M803.5,184v2M804.5,183v1M805.5,182v1M806.5,182v1M807.5,181v1M808.5,180v1M809.5,180v1M810.5,179v1M811.5,179v1M812.5,179v1M813.5,179v1M814.5,179v1M815.5,179v1M816.5,179v1M817.5,179v1M818.5,179v1M819.5,180v1M820.5,180v1M821.5,181v1M822.5,182v1M823.5,182v1M824.5,182v1M825.5,181v1M826.5,181v1M827.5,180v1M828.5,180v1M829.5,179v1M830.5,179v1M831.5,178v1M832.5,178v1M833.5,177v1M834.5,177v1M835.5,176v1M836.5,176v1M837.5,176v1M838.5,175v1M839.5,175v1M840.5,175v1M841.5,175v1M842.5,175v1M843.5,175v1M844.5,176v1M845.5,176v1M846.5,176v1M847.5,176v1M848.5,177v1M849.5,177v1M850.5,178v1M851.5,178v1M852.5,179v1M853.5,179v1M854.5,180v1M855.5,180v1M856.5,181v1M857.5,182v1M858.5,182v1M859.5,183v1M860.5,184v2M861.5,186v1M862.5,187v2M863.5,189v1M864.5,190v2M865.5,192v1M866.5,193v1M867.5,194v2M868.5,196v2M869.5,198v2M870.5,200v2M871.5,202v2M872.5,204v2M873.5,206v2M874.5,208v1M875.5,209v1" stroke="#000080" stroke-width="1" fill="none" shape-rendering="crispEdges"/>
<path d="M4.5,126v2M5.5,128v2M6.5,130v2M7.5,132v2M8.5,134v2M9.5,136v2M10.5,138v3M11.5,141v2M12.5,143v2M13.5,145v2M14.5,147v2M15.5,149v2M16.5,151v3M17.5,154v2M18.5,156v2M19.5,158v2M20.5,160v2M21.5,162v3M22.5,165v2M23.5,167v2M24.5,169v2M25.5,171v1M26.5,172v2M27.5,174v2M28.5,176v1M29.5,177v2M30.5,179v1M31.5,180v2M32.5,182v1M33.5,183v2M34.5,185v1M35.5,186v1M36.5,187v2M37.5,189v1M38.5,190v1M39.5,191v2M40.5,193v1M41.5,194v1M42.5,195v1M43.5,196v1M44.5,197v1M45.5,198v1M46.5,199v1M47.5,200v1M48.5,201v1M49.5,202v1M50.5,203v1M51.5,203v1M52.5,204v1M53.5,205v1M54.5,205v1M55.5,206v1M56.5,206v1M57.5,206v1M58.5,206v1M59.5,205v1M60.5,205v1M61.5,204v1M62.5,204v1M63.5,202v2M64.5,201v1M65.5,200v1M66.5,198v2M67.5,196v2M68.5,194v2M69.5,192v2M70.5,190v2M71.5,188v2M72.5,186v2M73.5,185v1M74.5,183v2M75.5,181v2M76.5,180v1M77.5,178v2M78.5,176v2M79.5,175v1M80.5,173v2M81.5,172v1M82.5,170v2M83.5,169v1M84.5,167v2M85.5,166v1M86.5,165v1M87.5,164v1M88.5,163v1M89.5,162v1M90.5,162v1M91.5,161v1M92.5,160v1M93.5,160v1M94.5,159v1M95.5,159v1M96.5,158v1M97.5,158v1M98.5,157v1M99.5,157v1M100.5,158v1M101.5,158v1M102.5,158v1M103.5,159v1M104.5,159v1M105.5,160v1M106.5,160v1M107.5,161v1M108.5,162v1M109.5,162v1M110.5,163v1M111.5,164v1M112.5,165v1M113.5,166v1M114.5,167v1M115.5,168v1M116.5,169v1M117.5,170v1M118.5,171v1M119.5,172v1M120.5,173v1M121.5,174v1M122.5,175v1M123.5,176v1M124.5,177v2M125.5,179v1M126.5,180v1M127.5,181v1M128.5,182v1M129.5,183v2M130.5,185v1M131.5,186v1M132.5,187v1M133.5,188v1M134.5,189v1M135.5,190v1M136.5,191v1M137.5,192v1M138.5,192v1M139.5,193v1M140.5,194v1M141.5,194v1M142.5,194v1M143.5,194v1M144.5,194v1M145.5,194v1M146.5,194v1M147.5,193v1M148.5,193v1M149.5,192v1M150.5,191v1M151.5,191v1M152.5,190v1M153.5,189v1M154.5,187v2M155.5,186v1M156.5,184v2M157.5,182v2M158.5,180v2M159.5,179v1M160.5,178v1M161.5,177v1M162.5,176v1M163.5,175v1M164.5,173v2M165.5,171v2M166.5,168v3M167.5,164v4M168.5,161v3M169.5,158v3M170.5,155v3M171.5,153v2M172.5,150v3M173.5,147v3M174.5,145v2M175.5,143v2M176.5,141v2M177.5,140v1M178.5,139v1M179.5,137v2M180.5,136v1M181.5,135v1M182.5,135v1M183.5,134v1M184.5,133v1M185.5,132v1M186.5,132v1M187.5,131v1M188.5,131v1M189.5,130v1M190.5,130v1M191.5,130v1M192.5,130v1M193.5,130v1M194.5,131v1M195.5,131v1M196.5,131v1M197.5,131v1M198.5,130v1M199.5,130v1M200.5,130v1M201.5,129v1M202.5,129v1M203.5,129v1M204.5,128v1M205.5,128v1M206.5,127v1M207.5,127v1M208.5,127v1M209.5,127v1M210.5,127v1M211.5,126v1M212.5,126v1M213.5,126v1M214.5,126v1M215.5,126v1M216.5,125v1M217.5,125v1M218.5,124v1M219.5,123v1M220.5,122v1M221.5,121v1M222.5,120v1M223.5,119v1M224.5,119v1M225.5,118v1M226.5,117v1M227.5,117v1M228.5,116v1M229.5,115v1M230.5,115v1M231.5,114v1M232.5,113v1M233.5,113v1M234.5,112v1M235.5,111v1M236.5,111v1M237.5,111v1M238.5,110v1M239.5,110v1M240.5,110v1M241.5,110v1M242.5,110v1M243.5,109v1M244.5,109v1M245.5,108v1M246.5,108v1M247.5,108v1M248.5,108v1M249.5,109v1M250.5,110v1M251.5,111v1M252.5,112v1M253.5,113v1M254.5,114v2M255.5,116v1M256.5,117v2M257.5,119v2M258.5,121v2M259.5,123v2M260.5,125v2M261.5,127v2M262.5,129v3M263.5,132v2M264.5,134v3M265.5,137v2M266.5,139v3M267.5,142v2M268.5,144v2M269.5,146v1M270.5,147v2M271.5,149v3M272.5,152v2M273.5,154v3M274.5,157v4M275.5,161v4M276.5,165v4M277.5,169v4M278.5,173v4M279.5,177v4M280.5,181v5M281.5,186v4M282.5,190v5M283.5,195v5M284.5,200v5M285.5,205v4M286.5,209v5M287.5,214v5M288.5,219v5M289.5,224v4M290.5,228v5M291.5,233v4M292.5,237v4M293.5,241v3M294.5,244v4M295.5,248v3M296.5,251v3M297.5,254v3M298.5,257v3M299.5,260v3M300.5,263v3M301.5,266v3M302.5,269v2M303.5,271v2M304.5,273v2M305.5,275v2M306.5,277v2M307.5,279v2M308.5,281v2M309.5,283v2M310.5,285v2M311.5,287v2M312.5,289v3M313.5,292v2M314.5,294v3M315.5,297v3M316.5,300v3M317.5,303v1M318.5,304v2M319.5,306v2M320.5,308v1M321.5,309v2M322.5,311v1M323.5,312v2M324.5,314v1M325.5,315v1M326.5,316v1M327.5,317v1M328.5,317v1M329.5,318v1M330.5,319v1M331.5,319v1M332.5,320v1M333.5,320v1M334.5,320v1M335.5,320v1M336.5,320v1M337.5,320v1M338.5,320v1M339.5,320v1M340.5,320v1M341.5,320v1M342.5,320v1M343.5,320v1M344.5,320v1M345.5,320v1M346.5,321v1M347.5,321v1M348.5,322v1M349.5,323v1M350.5,324v1M351.5,324v1M352.5,325v1M353.5,325v1M354.5,326v1M355.5,326v1M356.5,326v1M357.5,326v1M358.5,327v1M359.5,327v1M360.5,327v1M361.5,327v1M362.5,328v1M363.5,328v1M364.5,328v1M365.5,329v1M366.5,330v1M367.5,331v1M368.5,332v1M369.5,333v1M370.5,334v1M371.5,335v1M372.5,335v1M373.5,336v1M374.5,337v1M375.5,337v1M376.5,338v1M377.5,339v1M378.5,339v1M379.5,340v1M380.5,341v1M381.5,341v1M382.5,342v1M383.5,342v1M384.5,342v1M385.5,341v1M386.5,341v1M387.5,340v1M388.5,340v1M389.5,339v1M390.5,338v1M391.5,337v1M392.5,336v1M393.5,334v2M394.5,333v1M395.5,332v1M396.5,330v2M397.5,329v1M398.5,328v1M399.5,326v2M400.5,324v2M401.5,323v1M402.5,321v2M403.5,320v1M404.5,318v2M405.5,317v1M406.5,315v2M407.5,314v1M408.5,312v2M409.5,310v2M410.5,309v1M411.5,307v2M412.5,305v2M413.5,303v2M414.5,301v2M415.5,299v2M416.5,297v2M417.5,294v3M418.5,292v2M419.5,290v2M420.5,288v2M421.5,286v2M422.5,284v2M423.5,282v2M424.5,279v3M425.5,277v2M426.5,275v2M427.5,273v2M428.5,271v2M429.5,268v3M430.5,266v2M431.5,263v3M432.5,261v2M433.5,259v2M434.5,258v1M435.5,257v1M436.5,256v1M437.5,255v1M438.5,254v1M439.5,254v1M440.5,254v1M441.5,254v1M442.5,254v1M443.5,254v1M444.5,255v1M445.5,256v1M446.5,257v2M447.5,259v1M448.5,260v2M449.5,262v1M450.5,263v1M451.5,264v1M452.5,265v1M453.5,266v1M454.5,266v1M455.5,267v2M456.5,269v2M457.5,271v2M458.5,273v2M459.5,275v2M460.5,277v2M461.5,279v2M462.5,281v2M463.5,283v1M464.5,284v1M465.5,285v2M466.5,287v1M467.5,288v2M468.5,290v1M469.5,291v2M470.5,293v2M471.5,295v2M472.5,297v2M473.5,299v3M474.5,302v3M475.5,305v3M476.5,308v2M477.5,310v3M478.5,313v3M479.5,316v3M480.5,319v2M481.5,321v3M482.5,324v2M483.5,326v3M484.5,329v2M485.5,331v3M486.5,334v2M487.5,336v1M488.5,337v2M489.5,339v1M490.5,340v1M491.5,341v1M492.5,342v1M493.5,342v1M494.5,343v1M495.5,343v1M496.5,344v1M497.5,344v1M498.5,345v1M499.5,345v1M500.5,346v1M501.5,346v1M502.5,347v1M503.5,347v1M504.5,348v1M505.5,348v1M506.5,349v1M507.5,349v1M508.5,350v1M509.5,350v1M510.5,350v1M511.5,350v1M512.5,349v1M513.5,349v1M514.5,348v1M515.5,347v1M516.5,347v1M517.5,346v1M518.5,346v1M519.5,345v1M520.5,344v1M521.5,344v1M522.5,344v1M523.5,344v1M524.5,344v1M525.5,344v1M526.5,345v1M527.5,345v1M528.5,345v1M529.5,345v1M530.5,344v1M531.5,343v1M532.5,342v1M533.5,340v2M534.5,339v1M535.5,337v2M536.5,333v4M537.5,330v3M538.5,327v3M539.5,325v2M540.5,323v2M541.5,321v2M542.5,320v1M543.5,318v2M544.5,316v2M545.5,315v1M546.5,313v2M547.5,312v1M548.5,310v2M549.5,309v1M550.5,307v2M551.5,305v2M552.5,304v1M553.5,302v2M554.5,301v1M555.5,299v2M556.5,298v1M557.5,296v2M558.5,295v1M559.5,293v2M560.5,292v1M561.5,290v2M562.5,289v1M563.5,288v1M564.5,287v1M565.5,286v1M566.5,285v1M567.5,284v1M568.5,283v1M569.5,283v1M570.5,282v1M571.5,281v1M572.5,280v1M573.5,279v1M574.5,279v1M575.5,278v1M576.5,276v2M577.5,275v1M578.5,273v2M579.5,271v2M580.5,269v2M581.5,266v3M582.5,264v2M583.5,262v2M584.5,259v3M585.5,257v2M586.5,254v3M587.5,252v2M588.5,251v1M589.5,249v2M590.5,248v1M591.5,247v1M592.5,246v1M593.5,245v1M594.5,244v1M595.5,243v1M596.5,242v1M597.5,241v1M598.5,241v1M599.5,240v1M600.5,240v1M601.5,239v1M602.5,239v1M603.5,238v1M604.5,238v1M605.5,238v1M606.5,237v1M607.5,237v1M608.5,237v1M609.5,236v1M610.5,236v1M611.5,235v1M612.5,235v1M613.5,235v1M614.5,234v1M615.5,234v1M616.5,233v1M617.5,233v1M618.5,233v1M619.5,232v1M620.5,232v1M621.5,231v1M622.5,231v1M623.5,231v1M624.5,231v1M625.5,231v1M626.5,231v1M627.5,231v1M628.5,232v1M629.5,233v2M630.5,235v1M631.5,236v1M632.5,237v2M633.5,239v1M634.5,240v1M635.5,241v1M636.5,242v1M637.5,243v1M638.5,244v1M639.5,245v1M640.5,246v2M641.5,248v1M642.5,249v1M643.5,250v2M644.5,252v2M645.5,254v2M646.5,256v2M647.5,258v2M648.5,260v1M649.5,261v1M650.5,262v1M651.5,263v1M652.5,264v1M653.5,265v2M654.5,267v2M655.5,269v2M656.5,271v2M657.5,273v2M658.5,275v1M659.5,276v2M660.5,278v2M661.5,280v2M662.5,282v1M663.5,283v2M664.5,285v1M665.5,286v2M666.5,288v1M667.5,289v1M668.5,290v1M669.5,291v1M670.5,292v2M671.5,294v1M672.5,295v1M673.5,296v1M674.5,297v1M675.5,298v2M676.5,300v1M677.5,301v2M678.5,303v1M679.5,304v2M680.5,306v1M681.5,307v1M682.5,308v1M683.5,309v1M684.5,309v1M685.5,309v1M686.5,310v1M687.5,310v1M688.5,310v1M689.5,310v1M690.5,309v1M691.5,309v1M692.5,309v1M693.5,309v1M694.5,308v1M695.5,308v1M696.5,307v1M697.5,307v1M698.5,306v1M699.5,305v1M700.5,305v1M701.5,305v1M702.5,306v1M703.5,306v1M704.5,306v1M705.5,305v1M706.5,305v1M707.5,304v1M708.5,304v1M709.5,303v1M710.5,302v1M711.5,302v1M712.5,301v1M713.5,300v1M714.5,300v1M715.5,299v1M716.5,298v1M717.5,297v1M718.5,296v1M719.5,295v1M720.5,294v1M721.5,292v2M722.5,291v1M723.5,289v2M724.5,288v1M725.5,286v2M726.5,285v1M727.5,283v2M728.5,281v2M729.5,280v1M730.5,278v2M731.5,276v2M732.5,274v2M733.5,273v1M734.5,271v2M735.5,269v2M736.5,267v2M737.5,266v1M738.5,264v2M739.5,262v2M740.5,261v1M741.5,259v2M742.5,258v1M743.5,257v1M744.5,256v1M745.5,255v1M746.5,254v1M747.5,254v1M748.5,253v1M749.5,252v1M750.5,252v1M751.5,251v1M752.5,250v1M753.5,249v1M754.5,248v1M755.5,247v1M756.5,246v1M757.5,244v2M758.5,243v1M759.5,242v1M760.5,241v1M761.5,240v1M762.5,238v2M763.5,237v1M764.5,236v1M765.5,234v2M766.5,233v1M767.5,232v1M768.5,230v2M769.5,229v1M770.5,227v2M771.5,225v2M772.5,223v2M773.5,221v2M774.5,219v2M775.5,217v2M776.5,214v3M777.5,212v2M778.5,210v2M779.5,208v2M780.5,206v2M781.5,204v2M782.5,202v2M783.5,199v3M784.5,197v2M785.5,195v2M786.5,193v2M787.5,191v2M788.5,188v3M789.5,186v2M790.5,184v2M791.5,182v2M792.5,181v1M793.5,179v2M794.5,177v2M795.5,175v2M796.5,173v2M797.5,171v2M798.5,169v2M799.5,166v3M800.5,164v2M801.5,163v1M802.5,161v2M803.5,160v1M804.5,158v2M805.5,157v1M806.5,156v1M807.5,155v1M808.5,155v1M809.5,154v1M810.5,154v1M811.5,154v1M812.5,154v1M813.5,154v1M814.5,154v1M815.5,155v1M816.5,156v1M817.5,157v1M818.5,158v1M819.5,159v1M820.5,160v1M821.5,161v1M822.5,162v1M823.5,163v1M824.5,164v1M825.5,165v1M826.5,165v1M827.5,165v1M828.5,165v1M829.5,166v1M830.5,166v1M831.5,167v1M832.5,168v1M833.5,169v1M834.5,170v2M835.5,172v1M836.5,173v1M837.5,174v2M838.5,176v1M839.5,177v1M840.5,178v2M841.5,180v1M842.5,181v2M843.5,183v2M844.5,185v2M845.5,187v2M846.5,189v2M847.5,191v3M848.5,194v2M849.5,196v2M850.5,198v2M851.5,200v2M852.5,202v2M853.5,204v2M854.5,206v2M855.5,208v3M856.5,211v2M857.5,213v2M858.5,215v2M859.5,217v1M860.5,218v2M861.5,220v1M862.5,221v1M863.5,222v2M864.5,224v1M865.5,225v1M866.5,226v1M867.5,227v1M868.5,227v1M869.5,228v1M870.5,228v1M871.5,228v1M872.5,228v1M873.5,229v1M874.5,229v1M875.5,230v1" stroke="#ff0000" stroke-width="1" fill="none" shape-rendering="crispEdges"/>
<rect x="4" y="115" width="1104" height="2" fill="#ff0000"/>
<rect x="1108" y="110" width="41" height="11" fill="#ff0000"/>
<rect x="4" y="207" width="1104" height="2" fill="#32cd32"/>
<rect x="1108" y="202" width="41" height="11" fill="#32cd32"/>
<rect x="4" y="298" width="1104" height="2" fill="#0000cd"/>
<rect x="1108" y="293" width="41" height="11" fill="#0000cd"/>
<rect x="4" y="418" width="1104" height="2" fill="#0000cd"/>
<rect x="1108" y="413" width="41" height="11" fill="#0000cd"/>
<rect x="1108" y="20" width="41" height="9" fill="#ff0000"/>
<rect x="3" y="113" width="6" height="6" fill="#ff0000"/>
<rect x="5" y="115" width="2" height="2" fill="#fff"/>
<rect x="1100" y="113" width="6" height="6" fill="#ff0000"/>
<rect x="1102" y="115" width="2" height="2" fill="#fff"/>
<rect x="3" y="205" width="6" height="6" fill="#32cd32"/>
<rect x="5" y="207" width="2" height="2" fill="#fff"/>
<rect x="1100" y="205" width="6" height="6" fill="#32cd32"/>
<rect x="1102" y="207" width="2" height="2" fill="#fff"/>
<rect x="1108" y="257" width="41" height="9.9" fill="#000"/>
<rect x="1106" y="262" width="1" height="1" fill="#fff"/>
<rect x="1106" y="261" width="2" height="1" fill="#000"/>
</g>
<line x1="4" y1="455.5" x2="1106" y2="455.5" stroke="#c0c0c0" stroke-width="1" stroke-dasharray="3,3" shape-rendering="crispEdges"/>
<line x1="4" y1="485.5" x2="1106" y2="485.5" stroke="#c0c0c0" stroke-width="1" stroke-dasharray="3,3" shape-rendering="crispEdges"/>
<g shape-rendering="crispEdges">
<rect x="1107" y="433" width="1" height="1" fill="#000"/>
<rect x="1107" y="507" width="1" height="1" fill="#000"/>
<rect x="1107" y="512" width="1" height="1" fill="#000"/>
<rect x="1107" y="542" width="1" height="1" fill="#000"/>
<rect x="1107" y="578" width="1" height="1" fill="#000"/>
<rect x="3" y="542" width="3" height="24" fill="#c0c0c0"/>
<rect x="7" y="542" width="3" height="26" fill="#c0c0c0"/>
<rect x="11" y="542" width="3" height="29" fill="#c0c0c0"/>
<rect x="15" y="542" width="3" height="31" fill="#c0c0c0"/>
<rect x="19" y="542" width="3" height="30" fill="#c0c0c0"/>
<rect x="23" y="542" width="3" height="31" fill="#c0c0c0"/>
<rect x="27" y="542" width="3" height="31" fill="#c0c0c0"/>
<rect x="31" y="542" width="3" height="30" fill="#c0c0c0"/>
<rect x="35" y="542" width="3" height="28" fill="#c0c0c0"/>
<rect x="39" y="542" width="3" height="26" fill="#c0c0c0"/>
<rect x="43" y="542" width="3" height="24" fill="#c0c0c0"/>
<rect x="47" y="542" width="3" height="22" fill="#c0c0c0"/>
<rect x="51" y="542" width="3" height="21" fill="#c0c0c0"/>
<rect x="55" y="542" width="3" height="19" fill="#c0c0c0"/>
<rect x="59" y="542" width="3" height="18" fill="#c0c0c0"/>
<rect x="63" y="542" width="3" height="15" fill="#c0c0c0"/>
<rect x="67" y="542" width="3" height="12" fill="#c0c0c0"/>
<rect x="71" y="542" width="3" height="9" fill="#c0c0c0"/>
<rect x="75" y="542" width="3" height="6" fill="#c0c0c0"/>
<rect x="79" y="542" width="3" height="4" fill="#c0c0c0"/>
<rect x="83" y="542" width="3" height="1" fill="#c0c0c0"/>
<rect x="87" y="540" width="3" height="2" fill="#c0c0c0"/>
<rect x="91" y="540" width="3" height="2" fill="#c0c0c0"/>
<rect x="95" y="541" width="3" height="1" fill="#c0c0c0"/>
<rect x="99" y="542" width="3" height="1" fill="#c0c0c0"/>
<rect x="103" y="542" width="3" height="2" fill="#c0c0c0"/>
<rect x="107" y="542" width="3" height="7" fill="#c0c0c0"/>
<rect x="111" y="542" width="3" height="10" fill="#c0c0c0"/>
<rect x="115" y="542" width="3" height="13" fill="#c0c0c0"/>
<rect x="119" y="542" width="3" height="14" fill="#c0c0c0"/>
<rect x="123" y="542" width="3" height="15" fill="#c0c0c0"/>
<rect x="127" y="542" width="3" height="13" fill="#c0c0c0"/>
<rect x="131" y="542" width="3" height="12" fill="#c0c0c0"/>
<rect x="135" y="542" width="3" height="10" fill="#c0c0c0"/>
<rect x="139" y="542" width="3" height="6" fill="#c0c0c0"/>
<rect x="143" y="542" width="3" height="4" fill="#c0c0c0"/>
<rect x="147" y="542" width="3" height="1" fill="#c0c0c0"/>
<rect x="151" y="539" width="3" height="3" fill="#c0c0c0"/>
<rect x="155" y="536" width="3" height="6" fill="#c0c0c0"/>
<rect x="159" y="533" width="3" height="9" fill="#c0c0c0"/>
<rect x="163" y="534" width="3" height="8" fill="#c0c0c0"/>
<rect x="167" y="533" width="3" height="9" fill="#c0c0c0"/>
<rect x="171" y="531" width="3" height="11" fill="#c0c0c0"/>
<rect x="175" y="530" width="3" height="12" fill="#c0c0c0"/>
<rect x="179" y="532" width="3" height="10" fill="#c0c0c0"/>
<rect x="183" y="534" width="3" height="8" fill="#c0c0c0"/>
<rect x="187" y="534" width="3" height="8" fill="#c0c0c0"/>
<rect x="191" y="537" width="3" height="5" fill="#c0c0c0"/>
<rect x="195" y="539" width="3" height="3" fill="#c0c0c0"/>
<rect x="199" y="538" width="3" height="4" fill="#c0c0c0"/>
<rect x="203" y="536" width="3" height="6" fill="#c0c0c0"/>
<rect x="207" y="534" width="3" height="8" fill="#c0c0c0"/>
<rect x="211" y="533" width="3" height="9" fill="#c0c0c0"/>
<rect x="215" y="532" width="3" height="10" fill="#c0c0c0"/>
<rect x="219" y="532" width="3" height="10" fill="#c0c0c0"/>
<rect x="223" y="530" width="3" height="12" fill="#c0c0c0"/>
<rect x="227" y="529" width="3" height="13" fill="#c0c0c0"/>
<rect x="231" y="529" width="3" height="13" fill="#c0c0c0"/>
<rect x="235" y="529" width="3" height="13" fill="#c0c0c0"/>
<rect x="239" y="531" width="3" height="11" fill="#c0c0c0"/>
<rect x="243" y="533" width="3" height="9" fill="#c0c0c0"/>
<rect x="247" y="537" width="3" height="5" fill="#c0c0c0"/>
<rect x="251" y="542" width="3" height="1" fill="#c0c0c0"/>
<rect x="255" y="542" width="3" height="5" fill="#c0c0c0"/>
<rect x="259" y="542" width="3" height="6" fill="#c0c0c0"/>
<rect x="263" y="542" width="3" height="11" fill="#c0c0c0"/>
<rect x="267" y="542" width="3" height="14" fill="#c0c0c0"/>
<rect x="271" y="542" width="3" height="17" fill="#c0c0c0"/>
<rect x="275" y="542" width="3" height="21" fill="#c0c0c0"/>
<rect x="279" y="542" width="3" height="25" fill="#c0c0c0"/>
<rect x="283" y="542" width="3" height="29" fill="#c0c0c0"/>
<rect x="287" y="542" width="3" height="32" fill="#c0c0c0"/>
<rect x="291" y="542" width="3" height="34" fill="#c0c0c0"/>
<rect x="295" y="542" width="3" height="33" fill="#c0c0c0"/>
<rect x="299" y="542" width="3" height="33" fill="#c0c0c0"/>
<rect x="303" y="542" width="3" height="32" fill="#c0c0c0"/>
<rect x="307" y="542" width="3" height="33" fill="#c0c0c0"/>
<rect x="311" y="542" width="3" height="32" fill="#c0c0c0"/>
<rect x="315" y="542" width="3" height="31" fill="#c0c0c0"/>
<rect x="319" y="542" width="3" height="31" fill="#c0c0c0"/>
<rect x="323" y="542" width="3" height="30" fill="#c0c0c0"/>
<rect x="327" y="542" width="3" height="28" fill="#c0c0c0"/>
<rect x="331" y="542" width="3" height="27" fill="#c0c0c0"/>
<rect x="335" y="542" width="3" height="26" fill="#c0c0c0"/>
<rect x="339" y="542" width="3" height="24" fill="#c0c0c0"/>
<rect x="343" y="542" width="3" height="23" fill="#c0c0c0"/>
<rect x="347" y="542" width="3" height="24" fill="#c0c0c0"/>
<rect x="351" y="542" width="3" height="23" fill="#c0c0c0"/>
<rect x="355" y="542" width="3" height="21" fill="#c0c0c0"/>
<rect x="359" y="542" width="3" height="20" fill="#c0c0c0"/>
<rect x="363" y="542" width="3" height="20" fill="#c0c0c0"/>
<rect x="367" y="542" width="3" height="20" fill="#c0c0c0"/>
<rect x="371" y="542" width="3" height="21" fill="#c0c0c0"/>
<rect x="375" y="542" width="3" height="21" fill="#c0c0c0"/>
<rect x="379" y="542" width="3" height="20" fill="#c0c0c0"/>
<rect x="383" y="542" width="3" height="19" fill="#c0c0c0"/>
<rect x="387" y="542" width="3" height="16" fill="#c0c0c0"/>
<rect x="391" y="542" width="3" height="11" fill="#c0c0c0"/>
<rect x="395" y="542" width="3" height="6" fill="#c0c0c0"/>
<rect x="399" y="542" width="3" height="3" fill="#c0c0c0"/>
<rect x="403" y="540" width="3" height="2" fill="#c0c0c0"/>
<rect x="407" y="537" width="3" height="5" fill="#c0c0c0"/>
<rect x="411" y="535" width="3" height="7" fill="#c0c0c0"/>
<rect x="415" y="533" width="3" height="9" fill="#c0c0c0"/>
<rect x="419" y="531" width="3" height="11" fill="#c0c0c0"/>
<rect x="423" y="530" width="3" height="12" fill="#c0c0c0"/>
<rect x="427" y="529" width="3" height="13" fill="#c0c0c0"/>
<rect x="431" y="530" width="3" height="12" fill="#c0c0c0"/>
<rect x="435" y="531" width="3" height="11" fill="#c0c0c0"/>
<rect x="439" y="534" width="3" height="8" fill="#c0c0c0"/>
<rect x="443" y="538" width="3" height="4" fill="#c0c0c0"/>
<rect x="447" y="542" width="3" height="1" fill="#c0c0c0"/>
<rect x="451" y="542" width="3" height="3" fill="#c0c0c0"/>
<rect x="455" y="542" width="3" height="4" fill="#c0c0c0"/>
<rect x="459" y="542" width="3" height="5" fill="#c0c0c0"/>
<rect x="463" y="542" width="3" height="7" fill="#c0c0c0"/>
<rect x="467" y="542" width="3" height="8" fill="#c0c0c0"/>
<rect x="471" y="542" width="3" height="9" fill="#c0c0c0"/>
<rect x="475" y="542" width="3" height="10" fill="#c0c0c0"/>
<rect x="479" y="542" width="3" height="13" fill="#c0c0c0"/>
<rect x="483" y="542" width="3" height="16" fill="#c0c0c0"/>
<rect x="487" y="542" width="3" height="15" fill="#c0c0c0"/>
<rect x="491" y="542" width="3" height="14" fill="#c0c0c0"/>
<rect x="495" y="542" width="3" height="12" fill="#c0c0c0"/>
<rect x="499" y="542" width="3" height="12" fill="#c0c0c0"/>
<rect x="503" y="542" width="3" height="12" fill="#c0c0c0"/>
<rect x="507" y="542" width="3" height="11" fill="#c0c0c0"/>
<rect x="511" y="542" width="3" height="10" fill="#c0c0c0"/>
<rect x="515" y="542" width="3" height="8" fill="#c0c0c0"/>
<rect x="519" y="542" width="3" height="5" fill="#c0c0c0"/>
<rect x="523" y="542" width="3" height="5" fill="#c0c0c0"/>
<rect x="527" y="542" width="3" height="5" fill="#c0c0c0"/>
<rect x="531" y="542" width="3" height="5" fill="#c0c0c0"/>
<rect x="535" y="542" width="3" height="2" fill="#c0c0c0"/>
<rect x="539" y="539" width="3" height="3" fill="#c0c0c0"/>
<rect x="543" y="536" width="3" height="6" fill="#c0c0c0"/>
<rect x="547" y="533" width="3" height="9" fill="#c0c0c0"/>
<rect x="551" y="531" width="3" height="11" fill="#c0c0c0"/>
<rect x="555" y="530" width="3" height="12" fill="#c0c0c0"/>
<rect x="559" y="531" width="3" height="11" fill="#c0c0c0"/>
<rect x="563" y="531" width="3" height="11" fill="#c0c0c0"/>
<rect x="567" y="532" width="3" height="10" fill="#c0c0c0"/>
<rect x="571" y="532" width="3" height="10" fill="#c0c0c0"/>
<rect x="575" y="530" width="3" height="12" fill="#c0c0c0"/>
<rect x="579" y="529" width="3" height="13" fill="#c0c0c0"/>
<rect x="583" y="528" width="3" height="14" fill="#c0c0c0"/>
<rect x="587" y="526" width="3" height="16" fill="#c0c0c0"/>
<rect x="591" y="525" width="3" height="17" fill="#c0c0c0"/>
<rect x="595" y="524" width="3" height="18" fill="#c0c0c0"/>
<rect x="599" y="524" width="3" height="18" fill="#c0c0c0"/>
<rect x="603" y="524" width="3" height="18" fill="#c0c0c0"/>
<rect x="607" y="525" width="3" height="17" fill="#c0c0c0"/>
<rect x="611" y="527" width="3" height="15" fill="#c0c0c0"/>
<rect x="615" y="529" width="3" height="13" fill="#c0c0c0"/>
<rect x="619" y="531" width="3" height="11" fill="#c0c0c0"/>
<rect x="623" y="533" width="3" height="9" fill="#c0c0c0"/>
<rect x="627" y="535" width="3" height="7" fill="#c0c0c0"/>
<rect x="631" y="540" width="3" height="2" fill="#c0c0c0"/>
<rect x="635" y="542" width="3" height="1" fill="#c0c0c0"/>
<rect x="639" y="542" width="3" height="2" fill="#c0c0c0"/>
<rect x="643" y="542" width="3" height="3" fill="#c0c0c0"/>
<rect x="647" y="542" width="3" height="3" fill="#c0c0c0"/>
<rect x="651" y="542" width="3" height="4" fill="#c0c0c0"/>
<rect x="655" y="542" width="3" height="5" fill="#c0c0c0"/>
<rect x="659" y="542" width="3" height="7" fill="#c0c0c0"/>
<rect x="663" y="542" width="3" height="8" fill="#c0c0c0"/>
<rect x="667" y="542" width="3" height="9" fill="#c0c0c0"/>
<rect x="671" y="542" width="3" height="9" fill="#c0c0c0"/>
<rect x="675" y="542" width="3" height="9" fill="#c0c0c0"/>
<rect x="679" y="542" width="3" height="10" fill="#c0c0c0"/>
<rect x="683" y="542" width="3" height="11" fill="#c0c0c0"/>
<rect x="687" y="542" width="3" height="11" fill="#c0c0c0"/>
<rect x="691" y="542" width="3" height="8" fill="#c0c0c0"/>
<rect x="695" y="542" width="3" height="6" fill="#c0c0c0"/>
<rect x="699" y="542" width="3" height="3" fill="#c0c0c0"/>
<rect x="703" y="542" width="3" height="3" fill="#c0c0c0"/>
<rect x="707" y="542" width="3" height="2" fill="#c0c0c0"/>
<rect x="711" y="541" width="3" height="1" fill="#c0c0c0"/>
<rect x="715" y="541" width="3" height="1" fill="#c0c0c0"/>
<rect x="719" y="541" width="3" height="1" fill="#c0c0c0"/>
<rect x="723" y="540" width="3" height="2" fill="#c0c0c0"/>
<rect x="727" y="536" width="3" height="6" fill="#c0c0c0"/>
<rect x="731" y="535" width="3" height="7" fill="#c0c0c0"/>
<rect x="735" y="534" width="3" height="8" fill="#c0c0c0"/>
<rect x="739" y="532" width="3" height="10" fill="#c0c0c0"/>
<rect x="743" y="533" width="3" height="9" fill="#c0c0c0"/>
<rect x="747" y="533" width="3" height="9" fill="#c0c0c0"/>
<rect x="751" y="532" width="3" height="10" fill="#c0c0c0"/>
<rect x="755" y="531" width="3" height="11" fill="#c0c0c0"/>
<rect x="759" y="530" width="3" height="12" fill="#c0c0c0"/>
<rect x="763" y="529" width="3" height="13" fill="#c0c0c0"/>
<rect x="767" y="527" width="3" height="15" fill="#c0c0c0"/>
<rect x="771" y="527" width="3" height="15" fill="#c0c0c0"/>
<rect x="775" y="525" width="3" height="17" fill="#c0c0c0"/>
<rect x="779" y="523" width="3" height="19" fill="#c0c0c0"/>
<rect x="783" y="521" width="3" height="21" fill="#c0c0c0"/>
<rect x="787" y="519" width="3" height="23" fill="#c0c0c0"/>
<rect x="791" y="516" width="3" height="26" fill="#c0c0c0"/>
<rect x="795" y="515" width="3" height="27" fill="#c0c0c0"/>
<rect x="799" y="515" width="3" height="27" fill="#c0c0c0"/>
<rect x="803" y="517" width="3" height="25" fill="#c0c0c0"/>
<rect x="807" y="519" width="3" height="23" fill="#c0c0c0"/>
<rect x="811" y="522" width="3" height="20" fill="#c0c0c0"/>
<rect x="815" y="528" width="3" height="14" fill="#c0c0c0"/>
<rect x="819" y="533" width="3" height="9" fill="#c0c0c0"/>
<rect x="823" y="537" width="3" height="5" fill="#c0c0c0"/>
<rect x="827" y="538" width="3" height="4" fill="#c0c0c0"/>
<rect x="831" y="539" width="3" height="3" fill="#c0c0c0"/>
<rect x="835" y="540" width="3" height="2" fill="#c0c0c0"/>
<rect x="839" y="541" width="3" height="1" fill="#c0c0c0"/>
<rect x="843" y="541" width="3" height="1" fill="#c0c0c0"/>
<rect x="847" y="542" width="3" height="1" fill="#c0c0c0"/>
<rect x="851" y="542" width="3" height="2" fill="#c0c0c0"/>
<rect x="855" y="542" width="3" height="3" fill="#c0c0c0"/>
<rect x="859" y="542" width="3" height="5" fill="#c0c0c0"/>
<rect x="863" y="542" width="3" height="6" fill="#c0c0c0"/>
<rect x="867" y="542" width="3" height="8" fill="#c0c0c0"/>
<rect x="871" y="542" width="3" height="9" fill="#c0c0c0"/>
<rect x="875" y="542" width="3" height="10" fill="#c0c0c0"/>
</g>
<path d="M4.5,486v1M5.5,486v1M6.5,487v1M7.5,487v1M8.5,488v1M9.5,488v1M10.5,489v1M11.5,489v1M12.5,490v1M13.5,490v1M14.5,490v1M15.5,491v1M16.5,489v2M17.5,487v2M18.5,484v3M19.5,482v2M20.5,481v1M21.5,482v1M22.5,482v1M23.5,483v1M24.5,484v1M25.5,484v1M26.5,484v1M27.5,484v1M28.5,484v1M29.5,483v1M30.5,482v1M31.5,481v1M32.5,481v1M33.5,480v1M34.5,479v1M35.5,478v1M36.5,478v1M37.5,477v1M38.5,476v1M39.5,476v1M40.5,475v1M41.5,475v1M42.5,475v1M43.5,476v1M44.5,476v1M45.5,475v1M46.5,475v1M47.5,474v1M48.5,474v1M49.5,475v1M50.5,476v1M51.5,476v1M52.5,477v1M53.5,477v1M54.5,477v1M55.5,477v1M56.5,477v1M57.5,476v1M58.5,475v1M59.5,475v1M60.5,474v1M61.5,473v1M62.5,472v1M63.5,472v1M64.5,472v1M65.5,471v1M66.5,470v1M67.5,469v1M68.5,468v1M69.5,467v1M70.5,466v1M71.5,465v1M72.5,464v1M73.5,465v1M74.5,465v1M75.5,466v1M76.5,466v1M77.5,466v1M78.5,466v1M79.5,465v1M80.5,465v1M81.5,464v1M82.5,464v1M83.5,463v1M84.5,463v1M85.5,463v1M86.5,463v1M87.5,463v1M88.5,463v2M89.5,465v1M90.5,466v2M91.5,468v2M92.5,470v1M93.5,470v1M94.5,470v1M95.5,471v1M96.5,471v1M97.5,471v1M98.5,472v1M99.5,473v1M100.5,474v1M101.5,474v1M102.5,475v1M103.5,476v1M104.5,477v1M105.5,478v1M106.5,479v1M107.5,480v1M108.5,481v1M109.5,482v1M110.5,482v1M111.5,482v1M112.5,482v1M113.5,482v1M114.5,482v1M115.5,483v1M116.5,483v1M117.5,482v1M118.5,482v1M119.5,481v1M120.5,481v1M121.5,481v1M122.5,481v1M123.5,481v1M124.5,480v2M125.5,478v2M126.5,476v2M127.5,475v1M128.5,473v2M129.5,472v1M130.5,471v1M131.5,471v1M132.5,470v1M133.5,470v1M134.5,470v1M135.5,470v1M136.5,469v1M137.5,468v1M138.5,467v1M139.5,466v1M140.5,465v1M141.5,465v1M142.5,464v1M143.5,463v1M144.5,463v1M145.5,462v1M146.5,462v1M147.5,461v1M148.5,461v1M149.5,461v1M150.5,460v1M151.5,460v1M152.5,460v1M153.5,460v1M154.5,459v1M155.5,459v1M156.5,459v1M157.5,459v1M158.5,458v1M159.5,458v1M160.5,459v2M161.5,461v3M162.5,464v2M163.5,466v3M164.5,469v1M165.5,468v1M166.5,467v1M167.5,465v2M168.5,464v1M169.5,463v1M170.5,462v1M171.5,461v1M172.5,460v1M173.5,460v1M174.5,461v1M175.5,461v2M176.5,463v2M177.5,465v2M178.5,467v2M179.5,469v1M180.5,470v1M181.5,469v1M182.5,469v1M183.5,468v1M184.5,468v1M185.5,469v1M186.5,469v1M187.5,470v1M188.5,471v1M189.5,472v1M190.5,473v1M191.5,474v1M192.5,475v1M193.5,473v2M194.5,472v1M195.5,471v1M196.5,470v1M197.5,469v1M198.5,469v1M199.5,468v1M200.5,468v1M201.5,467v1M202.5,467v1M203.5,466v1M204.5,465v1M205.5,465v1M206.5,464v1M207.5,464v1M208.5,463v1M209.5,463v1M210.5,463v1M211.5,462v1M212.5,462v1M213.5,463v1M214.5,463v1M215.5,464v1M216.5,464v1M217.5,465v1M218.5,465v1M219.5,465v1M220.5,465v1M221.5,464v1M222.5,463v1M223.5,462v1M224.5,462v1M225.5,462v1M226.5,462v1M227.5,462v1M228.5,462v1M229.5,462v1M230.5,462v1M231.5,462v1M232.5,462v1M233.5,462v1M234.5,462v1M235.5,462v1M236.5,463v2M237.5,465v2M238.5,467v2M239.5,469v1M240.5,470v1M241.5,471v1M242.5,471v1M243.5,472v1M244.5,473v1M245.5,473v1M246.5,474v1M247.5,475v1M248.5,476v2M249.5,478v1M250.5,479v1M251.5,480v1M252.5,481v1M253.5,481v1M254.5,481v1M255.5,481v1M256.5,481v1M257.5,481v1M258.5,481v1M259.5,481v1M260.5,481v1M261.5,482v1M262.5,483v1M263.5,484v1M264.5,485v1M265.5,484v1M266.5,483v1M267.5,482v1M268.5,481v1M269.5,481v1M270.5,482v1M271.5,483v1M272.5,484v1M273.5,485v1M274.5,486v1M275.5,487v1M276.5,488v1M277.5,488v1M278.5,488v1M279.5,489v1M280.5,489v1M281.5,489v1M282.5,490v1M283.5,490v1M284.5,490v1M285.5,490v1M286.5,490v1M287.5,490v1M288.5,490v1M289.5,490v1M290.5,490v1M291.5,490v1M292.5,489v2M293.5,487v2M294.5,485v2M295.5,483v2M296.5,482v1M297.5,481v1M298.5,481v1M299.5,481v1M300.5,481v1M301.5,482v1M302.5,482v1M303.5,482v1M304.5,482v1M305.5,483v1M306.5,484v1M307.5,484v1M308.5,484v2M309.5,483v1M310.5,481v2M311.5,480v1M312.5,479v1M313.5,480v1M314.5,481v1M315.5,482v1M316.5,482v2M317.5,481v1M318.5,479v2M319.5,478v1M320.5,477v1M321.5,477v1M322.5,477v1M323.5,478v1M324.5,478v1M325.5,478v1M326.5,477v1M327.5,477v1M328.5,477v1M329.5,477v1M330.5,478v1M331.5,478v1M332.5,478v1M333.5,478v1M334.5,478v1M335.5,478v1M336.5,478v1M337.5,477v1M338.5,476v1M339.5,476v1M340.5,475v1M341.5,476v1M342.5,476v1M343.5,477v1M344.5,478v1M345.5,478v1M346.5,479v1M347.5,479v1M348.5,480v1M349.5,480v1M350.5,479v1M351.5,479v1M352.5,479v1M353.5,477v2M354.5,476v1M355.5,475v1M356.5,474v1M357.5,475v1M358.5,475v1M359.5,476v1M360.5,477v1M361.5,477v1M362.5,477v1M363.5,477v1M364.5,478v1M365.5,478v1M366.5,479v1M367.5,479v1M368.5,480v1M369.5,480v1M370.5,480v1M371.5,480v1M372.5,480v1M373.5,480v1M374.5,480v1M375.5,480v1M376.5,480v1M377.5,480v1M378.5,480v1M379.5,481v1M380.5,481v1M381.5,479v2M382.5,477v2M383.5,475v2M384.5,473v2M385.5,472v1M386.5,470v2M387.5,469v1M388.5,468v1M389.5,467v1M390.5,466v1M391.5,466v1M392.5,465v1M393.5,464v1M394.5,463v1M395.5,462v1M396.5,461v1M397.5,461v1M398.5,461v1M399.5,462v1M400.5,462v1M401.5,461v1M402.5,461v1M403.5,460v1M404.5,460v1M405.5,460v1M406.5,460v1M407.5,460v1M408.5,461v1M409.5,461v1M410.5,462v1M411.5,462v1M412.5,463v1M413.5,462v1M414.5,462v1M415.5,461v1M416.5,461v1M417.5,460v1M418.5,460v1M419.5,459v1M420.5,459v1M421.5,459v1M422.5,460v1M423.5,460v1M424.5,461v1M425.5,462v1M426.5,462v1M427.5,463v1M428.5,464v1M429.5,464v1M430.5,464v1M431.5,465v1M432.5,465v1M433.5,466v1M434.5,466v1M435.5,467v1M436.5,468v2M437.5,470v2M438.5,472v1M439.5,473v1M440.5,474v1M441.5,475v1M442.5,476v1M443.5,477v1M444.5,477v1M445.5,478v1M446.5,478v1M447.5,479v1M448.5,479v1M449.5,478v1M450.5,478v1M451.5,477v1M452.5,477v1M453.5,476v1M454.5,475v1M455.5,475v1M456.5,474v1M457.5,475v1M458.5,476v2M459.5,478v1M460.5,479v1M461.5,479v1M462.5,478v1M463.5,478v1M464.5,478v1M465.5,477v1M466.5,477v1M467.5,477v1M468.5,476v1M469.5,476v1M470.5,476v1M471.5,477v1M472.5,477v1M473.5,477v1M474.5,478v1M475.5,479v1M476.5,479v1M477.5,480v1M478.5,481v1M479.5,482v1M480.5,482v1M481.5,483v1M482.5,483v1M483.5,484v1M484.5,483v2M485.5,480v3M486.5,478v2M487.5,476v2M488.5,474v2M489.5,473v1M490.5,473v1M491.5,472v1M492.5,472v1M493.5,472v1M494.5,471v1M495.5,471v1M496.5,471v1M497.5,472v1M498.5,473v1M499.5,473v1M500.5,474v1M501.5,475v1M502.5,475v1M503.5,476v1M504.5,477v1M505.5,477v1M506.5,476v1M507.5,476v1M508.5,475v2M509.5,474v1M510.5,472v2M511.5,471v1M512.5,469v2M513.5,468v1M514.5,467v1M515.5,466v1M516.5,465v1M517.5,465v1M518.5,465v1M519.5,466v1M520.5,466v1M521.5,467v1M522.5,468v1M523.5,469v1M524.5,470v1M525.5,471v1M526.5,471v1M527.5,471v1M528.5,471v1M529.5,472v1M530.5,472v1M531.5,473v1M532.5,471v2M533.5,469v2M534.5,467v2M535.5,465v2M536.5,463v2M537.5,462v1M538.5,462v1M539.5,461v1M540.5,461v1M541.5,461v1M542.5,461v1M543.5,461v1M544.5,461v1M545.5,460v1M546.5,460v1M547.5,460v1M548.5,459v1M549.5,459v1M550.5,459v1M551.5,460v1M552.5,460v1M553.5,460v1M554.5,461v1M555.5,462v1M556.5,463v1M557.5,464v1M558.5,465v1M559.5,466v2M560.5,468v1M561.5,467v1M562.5,467v1M563.5,466v1M564.5,466v1M565.5,466v1M566.5,467v1M567.5,467v1M568.5,468v1M569.5,467v1M570.5,466v1M571.5,465v1M572.5,464v1M573.5,464v1M574.5,463v1M575.5,463v1M576.5,462v1M577.5,462v1M578.5,461v1M579.5,461v1M580.5,461v1M581.5,460v1M582.5,460v1M583.5,459v1M584.5,459v1M585.5,458v1M586.5,458v1M587.5,457v1M588.5,457v1M589.5,457v1M590.5,457v1M591.5,457v1M592.5,458v1M593.5,458v1M594.5,458v1M595.5,459v1M596.5,459v1M597.5,459v1M598.5,459v1M599.5,460v1M600.5,460v1M601.5,460v1M602.5,460v1M603.5,460v1M604.5,461v1M605.5,461v1M606.5,461v1M607.5,462v1M608.5,463v1M609.5,464v1M610.5,465v1M611.5,466v2M612.5,468v1M613.5,468v1M614.5,468v1M615.5,469v1M616.5,469v1M617.5,469v1M618.5,469v1M619.5,469v1M620.5,470v1M621.5,470v1M622.5,470v1M623.5,470v1M624.5,471v1M625.5,471v1M626.5,472v1M627.5,472v2M628.5,474v2M629.5,476v2M630.5,478v2M631.5,480v2M632.5,481v2M633.5,479v2M634.5,477v2M635.5,475v2M636.5,474v1M637.5,474v1M638.5,474v1M639.5,474v1M640.5,474v1M641.5,474v1M642.5,474v1M643.5,474v1M644.5,473v1M645.5,473v1M646.5,473v1M647.5,472v1M648.5,472v1M649.5,473v1M650.5,474v1M651.5,474v1M652.5,475v1M653.5,475v1M654.5,476v1M655.5,476v1M656.5,477v1M657.5,477v1M658.5,477v1M659.5,478v1M660.5,478v1M661.5,478v1M662.5,478v1M663.5,478v1M664.5,478v1M665.5,478v1M666.5,479v1M667.5,479v1M668.5,479v1M669.5,479v1M670.5,478v1M671.5,478v1M672.5,477v1M673.5,477v1M674.5,477v1M675.5,478v1M676.5,478v1M677.5,478v1M678.5,479v1M679.5,479v1M680.5,479v1M681.5,480v1M682.5,480v1M683.5,480v1M684.5,480v1M685.5,480v1M686.5,480v1M687.5,480v1M688.5,478v2M689.5,476v2M690.5,473v3M691.5,471v2M692.5,469v2M693.5,468v1M694.5,466v2M695.5,465v1M696.5,464v1M697.5,464v1M698.5,463v1M699.5,462v1M700.5,463v1M701.5,464v1M702.5,465v1M703.5,466v1M704.5,467v1M705.5,467v1M706.5,467v1M707.5,466v1M708.5,466v1M709.5,466v1M710.5,466v1M711.5,466v1M712.5,466v1M713.5,466v1M714.5,466v1M715.5,467v1M716.5,467v1M717.5,468v2M718.5,470v1M719.5,471v1M720.5,470v2M721.5,469v1M722.5,467v2M723.5,465v2M724.5,464v1M725.5,462v2M726.5,460v2M727.5,459v1M728.5,458v1M729.5,459v2M730.5,461v1M731.5,462v1M732.5,463v1M733.5,463v1M734.5,463v1M735.5,464v1M736.5,464v1M737.5,463v1M738.5,462v1M739.5,461v1M740.5,462v1M741.5,463v1M742.5,464v1M743.5,465v1M744.5,466v1M745.5,467v1M746.5,467v1M747.5,467v1M748.5,467v1M749.5,466v1M750.5,465v1M751.5,465v1M752.5,464v1M753.5,463v1M754.5,463v1M755.5,462v1M756.5,461v1M757.5,461v1M758.5,461v1M759.5,462v1M760.5,462v1M761.5,461v1M762.5,461v1M763.5,460v1M764.5,460v1M765.5,460v1M766.5,459v1M767.5,459v1M768.5,459v1M769.5,459v1M770.5,459v1M771.5,459v1M772.5,459v1M773.5,459v1M774.5,459v1M775.5,458v1M776.5,458v1M777.5,457v1M778.5,456v1M779.5,455v1M780.5,454v1M781.5,454v1M782.5,454v1M783.5,455v1M784.5,455v1M785.5,455v1M786.5,455v1M787.5,455v1M788.5,454v1M789.5,453v1M790.5,453v1M791.5,452v1M792.5,451v1M793.5,451v1M794.5,452v1M795.5,452v1M796.5,452v1M797.5,453v1M798.5,454v1M799.5,455v2M800.5,457v2M801.5,459v2M802.5,461v2M803.5,463v2M804.5,465v1M805.5,465v1M806.5,465v1M807.5,465v1M808.5,465v1M809.5,466v1M810.5,467v1M811.5,468v1M812.5,469v1M813.5,470v2M814.5,472v1M815.5,473v2M816.5,475v1M817.5,476v1M818.5,476v1M819.5,477v1M820.5,478v1M821.5,478v1M822.5,478v1M823.5,478v1M824.5,477v2M825.5,475v2M826.5,473v2M827.5,472v1M828.5,471v1M829.5,471v1M830.5,470v1M831.5,470v1M832.5,470v1M833.5,470v1M834.5,470v1M835.5,471v1M836.5,471v1M837.5,471v1M838.5,471v1M839.5,471v1M840.5,471v1M841.5,471v1M842.5,471v1M843.5,471v1M844.5,471v1M845.5,471v1M846.5,471v1M847.5,471v1M848.5,472v1M849.5,472v1M850.5,473v1M851.5,473v1M852.5,473v1M853.5,474v1M854.5,474v1M855.5,474v1M856.5,475v1M857.5,475v1M858.5,475v1M859.5,475v1M860.5,476v1M861.5,476v1M862.5,476v1M863.5,477v1M864.5,477v1M865.5,478v1M866.5,478v1M867.5,479v1M868.5,479v1M869.5,479v1M870.5,479v1M871.5,478v1M872.5,478v1M873.5,478v1M874.5,479v1M875.5,479v1M876.5,479v1" stroke="#1e90ff" stroke-width="1" fill="none" shape-rendering="crispEdges"/>
<path d="M4.5,562v1M5.5,562v1M6.5,562v1M7.5,562v1M8.5,562v1M9.5,562v1M10.5,562v1M11.5,563v1M12.5,563v1M13.5,564v1M14.5,564v1M15.5,565v1M16.5,565v1M17.5,565v1M18.5,566v1M19.5,566v1M20.5,566v1M21.5,567v1M22.5,567v1M23.5,567v1M24.5,567v1M25.5,568v1M26.5,568v1M27.5,568v1M28.5,568v1M29.5,569v1M30.5,569v1M31.5,569v1M32.5,569v1M33.5,570v1M34.5,570v1M35.5,570v1M36.5,570v1M37.5,570v1M38.5,570v1M39.5,570v1M40.5,570v1M41.5,570v1M42.5,570v1M43.5,570v1M44.5,570v1M45.5,569v1M46.5,569v1M47.5,569v1M48.5,569v1M49.5,568v1M50.5,568v1M51.5,567v1M52.5,567v1M53.5,567v1M54.5,566v1M55.5,566v1M56.5,566v1M57.5,566v1M58.5,565v1M59.5,565v1M60.5,565v1M61.5,564v1M62.5,564v1M63.5,564v1M64.5,563v1M65.5,563v1M66.5,562v1M67.5,562v1M68.5,561v1M69.5,561v1M70.5,560v1M71.5,559v1M72.5,559v1M73.5,558v1M74.5,558v1M75.5,557v1M76.5,557v1M77.5,556v1M78.5,556v1M79.5,555v1M80.5,555v1M81.5,554v1M82.5,554v1M83.5,553v1M84.5,553v1M85.5,552v1M86.5,552v1M87.5,551v1M88.5,550v1M89.5,550v1M90.5,549v1M91.5,548v1M92.5,547v1M93.5,547v1M94.5,546v1M95.5,546v1M96.5,545v1M97.5,545v1M98.5,545v1M99.5,544v1M100.5,544v1M101.5,544v1M102.5,544v1M103.5,543v1M104.5,543v1M105.5,543v1M106.5,543v1M107.5,543v1M108.5,543v1M109.5,543v1M110.5,543v1M111.5,543v1M112.5,544v1M113.5,544v1M114.5,544v1M115.5,545v1M116.5,545v1M117.5,545v1M118.5,546v1M119.5,546v1M120.5,546v1M121.5,547v1M122.5,547v1M123.5,548v1M124.5,548v1M125.5,548v1M126.5,549v1M127.5,549v1M128.5,550v1M129.5,550v1M130.5,550v1M131.5,551v1M132.5,551v1M133.5,551v1M134.5,552v1M135.5,552v1M136.5,552v1M137.5,552v1M138.5,552v1M139.5,552v1M140.5,552v1M141.5,552v1M142.5,552v1M143.5,552v1M144.5,552v1M145.5,551v1M146.5,551v1M147.5,551v1M148.5,550v1M149.5,550v1M150.5,549v1M151.5,549v1M152.5,548v1M153.5,548v1M154.5,548v1M155.5,547v1M156.5,546v1M157.5,546v1M158.5,545v1M159.5,544v1M160.5,544v1M161.5,543v1M162.5,542v1M163.5,542v1M164.5,541v1M165.5,540v1M166.5,540v1M167.5,540v1M168.5,539v1M169.5,539v1M170.5,538v1M171.5,538v1M172.5,537v1M173.5,536v1M174.5,536v1M175.5,535v1M176.5,535v1M177.5,534v1M178.5,534v1M179.5,533v1M180.5,533v1M181.5,533v1M182.5,533v1M183.5,533v1M184.5,533v1M185.5,533v1M186.5,533v1M187.5,533v1M188.5,533v1M189.5,533v1M190.5,533v1M191.5,533v1M192.5,533v1M193.5,533v1M194.5,533v1M195.5,533v1M196.5,533v1M197.5,534v1M198.5,534v1M199.5,534v1M200.5,534v1M201.5,534v1M202.5,534v1M203.5,535v1M204.5,535v1M205.5,535v1M206.5,535v1M207.5,535v1M208.5,535v1M209.5,535v1M210.5,535v1M211.5,535v1M212.5,535v1M213.5,535v1M214.5,535v1M215.5,535v1M216.5,535v1M217.5,535v1M218.5,535v1M219.5,535v1M220.5,535v1M221.5,535v1M222.5,534v1M223.5,534v1M224.5,534v1M225.5,534v1M226.5,534v1M227.5,534v1M228.5,533v1M229.5,533v1M230.5,533v1M231.5,533v1M232.5,533v1M233.5,532v1M234.5,532v1M235.5,532v1M236.5,532v1M237.5,531v1M238.5,531v1M239.5,531v1M240.5,531v1M241.5,531v1M242.5,531v1M243.5,531v1M244.5,531v1M245.5,531v1M246.5,531v1M247.5,531v1M248.5,531v1M249.5,531v1M250.5,531v1M251.5,531v1M252.5,532v1M253.5,532v1M254.5,533v1M255.5,533v1M256.5,534v1M257.5,535v1M258.5,535v1M259.5,536v1M260.5,536v1M261.5,537v1M262.5,537v1M263.5,538v1M264.5,539v1M265.5,539v1M266.5,540v1M267.5,541v1M268.5,542v1M269.5,543v1M270.5,543v1M271.5,544v1M272.5,545v1M273.5,546v1M274.5,547v1M275.5,548v1M276.5,549v1M277.5,550v1M278.5,551v1M279.5,552v1M280.5,553v1M281.5,554v1M282.5,554v1M283.5,555v1M284.5,556v1M285.5,557v1M286.5,558v1M287.5,558v1M288.5,559v1M289.5,560v1M290.5,561v1M291.5,562v1M292.5,562v1M293.5,563v1M294.5,564v1M295.5,565v1M296.5,565v1M297.5,566v1M298.5,567v1M299.5,567v1M300.5,568v1M301.5,569v1M302.5,569v1M303.5,570v1M304.5,570v1M305.5,571v1M306.5,571v1M307.5,571v1M308.5,572v1M309.5,572v1M310.5,573v1M311.5,573v1M312.5,573v1M313.5,573v1M314.5,573v1M315.5,574v1M316.5,574v1M317.5,574v1M318.5,574v1M319.5,574v1M320.5,574v1M321.5,574v1M322.5,574v1M323.5,574v1M324.5,574v1M325.5,574v1M326.5,573v1M327.5,573v1M328.5,573v1M329.5,572v1M330.5,572v1M331.5,571v1M332.5,571v1M333.5,571v1M334.5,571v1M335.5,570v1M336.5,570v1M337.5,570v1M338.5,570v1M339.5,569v1M340.5,569v1M341.5,569v1M342.5,569v1M343.5,568v1M344.5,568v1M345.5,568v1M346.5,568v1M347.5,567v1M348.5,567v1M349.5,567v1M350.5,567v1M351.5,566v1M352.5,566v1M353.5,566v1M354.5,566v1M355.5,565v1M356.5,565v1M357.5,565v1M358.5,565v1M359.5,564v1M360.5,564v1M361.5,564v1M362.5,564v1M363.5,564v1M364.5,563v1M365.5,563v1M366.5,563v1M367.5,563v1M368.5,563v1M369.5,563v1M370.5,563v1M371.5,563v1M372.5,563v1M373.5,563v1M374.5,562v1M375.5,562v1M376.5,562v1M377.5,562v1M378.5,562v1M379.5,562v1M380.5,562v1M381.5,562v1M382.5,562v1M383.5,562v1M384.5,561v1M385.5,561v1M386.5,561v1M387.5,561v1M388.5,561v1M389.5,560v1M390.5,560v1M391.5,559v1M392.5,559v1M393.5,559v1M394.5,558v1M395.5,558v1M396.5,557v1M397.5,557v1M398.5,556v1M399.5,556v1M400.5,555v1M401.5,555v1M402.5,554v1M403.5,554v1M404.5,553v1M405.5,553v1M406.5,552v1M407.5,551v1M408.5,551v1M409.5,550v1M410.5,549v1M411.5,548v1M412.5,548v1M413.5,547v1M414.5,546v1M415.5,546v1M416.5,545v1M417.5,544v1M418.5,543v1M419.5,542v1M420.5,541v1M421.5,540v1M422.5,539v1M423.5,539v1M424.5,538v1M425.5,537v1M426.5,537v1M427.5,536v1M428.5,535v1M429.5,535v1M430.5,534v1M431.5,534v1M432.5,533v1M433.5,533v1M434.5,533v1M435.5,533v1M436.5,532v1M437.5,532v1M438.5,532v1M439.5,532v1M440.5,532v1M441.5,532v1M442.5,532v1M443.5,532v1M444.5,532v1M445.5,532v1M446.5,532v1M447.5,532v1M448.5,533v1M449.5,533v1M450.5,533v1M451.5,534v1M452.5,534v1M453.5,534v1M454.5,535v1M455.5,535v1M456.5,536v1M457.5,536v1M458.5,537v1M459.5,537v1M460.5,538v1M461.5,538v1M462.5,539v1M463.5,539v1M464.5,540v1M465.5,540v1M466.5,541v1M467.5,541v1M468.5,542v1M469.5,542v1M470.5,543v1M471.5,543v1M472.5,544v1M473.5,544v1M474.5,545v1M475.5,545v1M476.5,546v1M477.5,546v1M478.5,547v1M479.5,547v1M480.5,548v1M481.5,548v1M482.5,549v1M483.5,549v1M484.5,550v1M485.5,550v1M486.5,550v1M487.5,551v1M488.5,551v1M489.5,551v1M490.5,552v1M491.5,552v1M492.5,552v1M493.5,552v1M494.5,553v1M495.5,553v1M496.5,553v1M497.5,553v1M498.5,553v1M499.5,553v1M500.5,554v1M501.5,554v1M502.5,554v1M503.5,554v1M504.5,554v1M505.5,554v1M506.5,554v1M507.5,554v1M508.5,554v1M509.5,554v1M510.5,554v1M511.5,554v1M512.5,554v1M513.5,554v1M514.5,553v1M515.5,553v1M516.5,553v1M517.5,553v1M518.5,552v1M519.5,552v1M520.5,552v1M521.5,552v1M522.5,551v1M523.5,551v1M524.5,551v1M525.5,551v1M526.5,550v1M527.5,550v1M528.5,550v1M529.5,550v1M530.5,549v1M531.5,549v1M532.5,549v1M533.5,549v1M534.5,549v1M535.5,548v1M536.5,548v1M537.5,548v1M538.5,547v1M539.5,547v1M540.5,546v1M541.5,546v1M542.5,545v1M543.5,545v1M544.5,544v1M545.5,544v1M546.5,543v1M547.5,543v1M548.5,542v1M549.5,542v1M550.5,541v1M551.5,541v1M552.5,540v1M553.5,540v1M554.5,539v1M555.5,539v1M556.5,538v1M557.5,538v1M558.5,537v1M559.5,537v1M560.5,536v1M561.5,536v1M562.5,536v1M563.5,535v1M564.5,535v1M565.5,534v1M566.5,534v1M567.5,534v1M568.5,533v1M569.5,533v1M570.5,533v1M571.5,532v1M572.5,532v1M573.5,532v1M574.5,532v1M575.5,531v1M576.5,531v1M577.5,531v1M578.5,531v1M579.5,531v1M580.5,530v1M581.5,530v1M582.5,530v1M583.5,530v1M584.5,530v1M585.5,530v1M586.5,530v1M587.5,530v1M588.5,530v1M589.5,530v1M590.5,530v1M591.5,530v1M592.5,529v1M593.5,529v1M594.5,529v1M595.5,529v1M596.5,528v1M597.5,528v1M598.5,528v1M599.5,528v1M600.5,527v1M601.5,527v1M602.5,527v1M603.5,527v1M604.5,526v1M605.5,526v1M606.5,526v1M607.5,526v1M608.5,526v1M609.5,526v1M610.5,526v1M611.5,526v1M612.5,526v1M613.5,526v1M614.5,526v1M615.5,526v1M616.5,526v1M617.5,526v1M618.5,526v1M619.5,526v1M620.5,526v1M621.5,526v1M622.5,526v1M623.5,526v1M624.5,527v1M625.5,527v1M626.5,527v1M627.5,528v1M628.5,528v1M629.5,529v1M630.5,529v1M631.5,530v1M632.5,530v1M633.5,531v1M634.5,531v1M635.5,532v1M636.5,532v1M637.5,533v1M638.5,533v1M639.5,534v1M640.5,534v1M641.5,535v1M642.5,535v1M643.5,536v1M644.5,536v1M645.5,537v1M646.5,537v1M647.5,537v1M648.5,538v1M649.5,538v1M650.5,539v1M651.5,539v1M652.5,540v1M653.5,540v1M654.5,541v1M655.5,541v1M656.5,542v1M657.5,542v1M658.5,542v1M659.5,543v1M660.5,543v1M661.5,544v1M662.5,544v1M663.5,545v1M664.5,545v1M665.5,545v1M666.5,546v1M667.5,546v1M668.5,546v1M669.5,547v1M670.5,547v1M671.5,547v1M672.5,547v1M673.5,547v1M674.5,548v1M675.5,548v1M676.5,548v1M677.5,548v1M678.5,549v1M679.5,549v1M680.5,549v1M681.5,549v1M682.5,550v1M683.5,550v1M684.5,550v1M685.5,550v1M686.5,551v1M687.5,551v1M688.5,551v1M689.5,551v1M690.5,551v1M691.5,551v1M692.5,551v1M693.5,551v1M694.5,551v1M695.5,551v1M696.5,551v1M697.5,551v1M698.5,551v1M699.5,551v1M700.5,551v1M701.5,551v1M702.5,551v1M703.5,550v1M704.5,550v1M705.5,550v1M706.5,550v1M707.5,549v1M708.5,549v1M709.5,549v1M710.5,549v1M711.5,548v1M712.5,548v1M713.5,548v1M714.5,547v1M715.5,547v1M716.5,547v1M717.5,546v1M718.5,546v1M719.5,546v1M720.5,545v1M721.5,545v1M722.5,545v1M723.5,544v1M724.5,544v1M725.5,544v1M726.5,543v1M727.5,543v1M728.5,542v1M729.5,542v1M730.5,541v1M731.5,541v1M732.5,540v1M733.5,540v1M734.5,540v1M735.5,539v1M736.5,539v1M737.5,539v1M738.5,538v1M739.5,538v1M740.5,538v1M741.5,537v1M742.5,537v1M743.5,537v1M744.5,536v1M745.5,536v1M746.5,536v1M747.5,536v1M748.5,535v1M749.5,535v1M750.5,535v1M751.5,535v1M752.5,534v1M753.5,534v1M754.5,534v1M755.5,534v1M756.5,533v1M757.5,533v1M758.5,533v1M759.5,533v1M760.5,532v1M761.5,532v1M762.5,532v1M763.5,532v1M764.5,531v1M765.5,531v1M766.5,531v1M767.5,531v1M768.5,530v1M769.5,530v1M770.5,530v1M771.5,530v1M772.5,530v1M773.5,530v1M774.5,530v1M775.5,530v1M776.5,530v1M777.5,529v1M778.5,529v1M779.5,529v1M780.5,528v1M781.5,528v1M782.5,527v1M783.5,527v1M784.5,527v1M785.5,527v1M786.5,526v1M787.5,526v1M788.5,526v1M789.5,526v1M790.5,525v1M791.5,525v1M792.5,524v1M793.5,524v1M794.5,523v1M795.5,523v1M796.5,522v1M797.5,522v1M798.5,521v1M799.5,521v1M800.5,521v1M801.5,520v1M802.5,520v1M803.5,520v1M804.5,519v1M805.5,519v1M806.5,519v1M807.5,519v1M808.5,518v1M809.5,518v1M810.5,518v1M811.5,518v1M812.5,518v1M813.5,518v1M814.5,518v1M815.5,518v1M816.5,518v1M817.5,519v1M818.5,519v1M819.5,519v1M820.5,520v1M821.5,520v1M822.5,521v1M823.5,521v1M824.5,522v1M825.5,523v1M826.5,523v1M827.5,524v1M828.5,525v1M829.5,525v1M830.5,526v1M831.5,527v1M832.5,527v1M833.5,528v1M834.5,528v1M835.5,529v1M836.5,530v1M837.5,530v1M838.5,531v1M839.5,532v1M840.5,532v1M841.5,533v1M842.5,534v1M843.5,535v1M844.5,535v1M845.5,536v1M846.5,536v1M847.5,537v1M848.5,537v1M849.5,538v1M850.5,538v1M851.5,539v1M852.5,539v1M853.5,540v1M854.5,540v1M855.5,540v1M856.5,541v1M857.5,541v1M858.5,541v1M859.5,541v1M860.5,541v1M861.5,541v1M862.5,541v1M863.5,541v1M864.5,542v1M865.5,542v1M866.5,543v1M867.5,543v1M868.5,543v1M869.5,544v1M870.5,544v1M871.5,544v1M872.5,545v1M873.5,545v1M874.5,545v1M875.5,545v1M876.5,546v1" stroke="#ff0000" stroke-width="1" fill="none" shape-rendering="crispEdges"/>
<text x="1110" y="442" font-size="9.9" fill="#000" stroke="#000" stroke-width="0.1" textLength="15.0" lengthAdjust="spacingAndGlyphs">100</text>
<text x="1110" y="459" font-size="9.9" fill="#000" stroke="#000" stroke-width="0.1" textLength="10.0" lengthAdjust="spacingAndGlyphs">70</text>
<text x="1110" y="489" font-size="9.9" fill="#000" stroke="#000" stroke-width="0.1" textLength="10.0" lengthAdjust="spacingAndGlyphs">30</text>
<text x="1110" y="505" font-size="9.9" fill="#000" stroke="#000" stroke-width="0.1" textLength="5.0" lengthAdjust="spacingAndGlyphs">0</text>
<text x="1110" y="521" font-size="9.9" fill="#000" stroke="#000" stroke-width="0.1" textLength="37.5" lengthAdjust="spacingAndGlyphs">0.005076</text>
<text x="1110" y="545.5" font-size="9.9" fill="#000" stroke="#000" stroke-width="0.1" textLength="17.5" lengthAdjust="spacingAndGlyphs">0.00</text>
<text x="1110" y="576" font-size="9.9" fill="#000" stroke="#000" stroke-width="0.1" textLength="40" lengthAdjust="spacingAndGlyphs">-0.006148</text>
<text x="1112.4" y="27" font-size="9.9" fill="#fff" stroke="#fff" stroke-width="0.1" textLength="32.4" lengthAdjust="spacingAndGlyphs">0.71013</text>
<text x="1112.4" y="119" font-size="9.9" fill="#fff" stroke="#fff" stroke-width="0.1" textLength="32.4" lengthAdjust="spacingAndGlyphs">0.70005</text>
<text x="1112.4" y="211" font-size="9.9" fill="#fff" stroke="#fff" stroke-width="0.1" textLength="32.4" lengthAdjust="spacingAndGlyphs">0.69001</text>
<text x="1112.4" y="266" font-size="9.9" fill="#fff" stroke="#fff" stroke-width="0.1" textLength="32.4" lengthAdjust="spacingAndGlyphs">0.68416</text>
<text x="1112.4" y="302" font-size="9.9" fill="#fff" stroke="#fff" stroke-width="0.1" textLength="32.4" lengthAdjust="spacingAndGlyphs">0.68008</text>
<text x="1112.4" y="422" font-size="9.9" fill="#fff" stroke="#fff" stroke-width="0.1" textLength="32.4" lengthAdjust="spacingAndGlyphs">0.66699</text>
<path d="M7,29.5 h7 l-3.5,4 z" fill="#000"/>
<text x="20" y="34" font-size="9.9" fill="#000" stroke="#000" stroke-width="0.1" textLength="64.5" lengthAdjust="spacingAndGlyphs">AUDUSD,Daily</text>
<text x="91" y="34" font-size="9.9" fill="#000" stroke="#000" stroke-width="0.1" textLength="140.7" lengthAdjust="spacingAndGlyphs">0.68464 0.68501 0.68285 0.68416</text>
<text x="8" y="443.5" font-size="9.9" fill="#000" stroke="#000" stroke-width="0.1" textLength="68" lengthAdjust="spacingAndGlyphs">RSI(14) 38.0750</text>
<text x="8.6" y="523" font-size="9.9" fill="#000" stroke="#000" stroke-width="0.1" textLength="153.3" lengthAdjust="spacingAndGlyphs">MACD(12,26,9) -0.001570 -0.000689</text>
<g shape-rendering="crispEdges">
<rect x="4" y="580" width="1" height="3" fill="#000"/>
<rect x="68" y="580" width="1" height="3" fill="#000"/>
<rect x="132" y="580" width="1" height="3" fill="#000"/>
<rect x="196" y="580" width="1" height="3" fill="#000"/>
<rect x="260" y="580" width="1" height="3" fill="#000"/>
<rect x="324" y="580" width="1" height="3" fill="#000"/>
<rect x="388" y="580" width="1" height="3" fill="#000"/>
<rect x="452" y="580" width="1" height="3" fill="#000"/>
<rect x="516" y="580" width="1" height="3" fill="#000"/>
<rect x="580" y="580" width="1" height="3" fill="#000"/>
<rect x="644" y="580" width="1" height="3" fill="#000"/>
<rect x="708" y="580" width="1" height="3" fill="#000"/>
<rect x="772" y="580" width="1" height="3" fill="#000"/>
<rect x="836" y="580" width="1" height="3" fill="#000"/>
</g>
<text x="3.4" y="591.7" font-size="9.9" fill="#000" stroke="#000" stroke-width="0.1" textLength="54.5" lengthAdjust="spacingAndGlyphs">15 May 2019</text>
<text x="67.4" y="591.7" font-size="9.9" fill="#000" stroke="#000" stroke-width="0.1" textLength="44.4" lengthAdjust="spacingAndGlyphs">3 Jun 2019</text>
<text x="131.4" y="591.7" font-size="9.9" fill="#000" stroke="#000" stroke-width="0.1" textLength="49.3" lengthAdjust="spacingAndGlyphs">21 Jun 2019</text>
<text x="195.4" y="591.7" font-size="9.9" fill="#000" stroke="#000" stroke-width="0.1" textLength="46.4" lengthAdjust="spacingAndGlyphs">10 Jul 2019</text>
<text x="259.4" y="591.7" font-size="9.9" fill="#000" stroke="#000" stroke-width="0.1" textLength="46.4" lengthAdjust="spacingAndGlyphs">29 Jul 2019</text>
<text x="323.4" y="591.7" font-size="9.9" fill="#000" stroke="#000" stroke-width="0.1" textLength="51.7" lengthAdjust="spacingAndGlyphs">16 Aug 2019</text>
<text x="387.4" y="591.7" font-size="9.9" fill="#000" stroke="#000" stroke-width="0.1" textLength="45.6" lengthAdjust="spacingAndGlyphs">4 Sep 2019</text>
<text x="451.4" y="591.7" font-size="9.9" fill="#000" stroke="#000" stroke-width="0.1" textLength="50.4" lengthAdjust="spacingAndGlyphs">23 Sep 2019</text>
<text x="515.4" y="591.7" font-size="9.9" fill="#000" stroke="#000" stroke-width="0.1" textLength="49.6" lengthAdjust="spacingAndGlyphs">11 Oct 2019</text>
<text x="579.4" y="591.7" font-size="9.9" fill="#000" stroke="#000" stroke-width="0.1" textLength="49.6" lengthAdjust="spacingAndGlyphs">30 Oct 2019</text>
<text x="643.4" y="591.7" font-size="9.9" fill="#000" stroke="#000" stroke-width="0.1" textLength="52.7" lengthAdjust="spacingAndGlyphs">18 Nov 2019</text>
<text x="707.4" y="591.7" font-size="9.9" fill="#000" stroke="#000" stroke-width="0.1" textLength="45.9" lengthAdjust="spacingAndGlyphs">6 Dec 2019</text>
<text x="771.4" y="591.7" font-size="9.9" fill="#000" stroke="#000" stroke-width="0.1" textLength="50.9" lengthAdjust="spacingAndGlyphs">25 Dec 2019</text>
<text x="835.4" y="591.7" font-size="9.9" fill="#000" stroke="#000" stroke-width="0.1" textLength="48.8" lengthAdjust="spacingAndGlyphs">13 Jan 2020</text>
<rect x="0" y="600" width="1150" height="1" fill="#e3e3e3" />
<rect x="0" y="601" width="1150" height="24" fill="#f0f0f0" />
<rect x="0" y="602" width="1150" height="1" fill="#000" />
<rect x="0" y="623" width="1150" height="1" fill="#fcfcfc" />
<rect x="1" y="602" width="1" height="19" fill="#696969" />
<rect x="110" y="602" width="103" height="19" fill="#fff" />
<rect x="109" y="602" width="1" height="19" fill="#000" />
<rect x="212" y="602" width="1" height="20" fill="#000" />
<rect x="109" y="620" width="104" height="2" fill="#000" />
<text x="17.6" y="617" font-size="12" fill="#7a7a7a" text-anchor="start" textLength="79.4" lengthAdjust="spacingAndGlyphs" >EURUSD,Daily</text>
<text x="120" y="617" font-size="12" fill="#000" text-anchor="start" textLength="82" lengthAdjust="spacingAndGlyphs" >AUDUSD,Daily</text>
<text x="223" y="617" font-size="12" fill="#7a7a7a" text-anchor="start" textLength="79.5" lengthAdjust="spacingAndGlyphs" >USDCHF,Daily</text>
<text x="324" y="617" font-size="12" fill="#7a7a7a" text-anchor="start" textLength="81.5" lengthAdjust="spacingAndGlyphs" >USDCAD,Daily</text>
<text x="427" y="617" font-size="12" fill="#7a7a7a" text-anchor="start" textLength="83.5" lengthAdjust="spacingAndGlyphs" >USDCNH,Daily</text>
<text x="531" y="617" font-size="12" fill="#7a7a7a" text-anchor="start" textLength="66.5" lengthAdjust="spacingAndGlyphs" >EURGBP,H1</text>
<text x="620" y="617" font-size="12" fill="#7a7a7a" text-anchor="start" textLength="69.5" lengthAdjust="spacingAndGlyphs" >NZDUSD,H1</text>
<text x="713" y="617" font-size="12" fill="#7a7a7a" text-anchor="start" textLength="68.5" lengthAdjust="spacingAndGlyphs" >GBPUSD,H1</text>
<rect x="313" y="605" width="1" height="14" fill="#6e6e6e" />
<rect x="416" y="605" width="1" height="14" fill="#6e6e6e" />
<rect x="521" y="605" width="1" height="14" fill="#6e6e6e" />
<rect x="609" y="605" width="1" height="14" fill="#6e6e6e" />
<rect x="701" y="605" width="1" height="14" fill="#6e6e6e" />
<rect x="793" y="605" width="1" height="14" fill="#6e6e6e" />
<path d="M1125,607.5 l0,7 l-3.5,-3.5 z" fill="#a0a0a0"/><path d="M1141,607.5 l0,7 l3.5,-3.5 z" fill="#a0a0a0"/>
</svg></body></html>
